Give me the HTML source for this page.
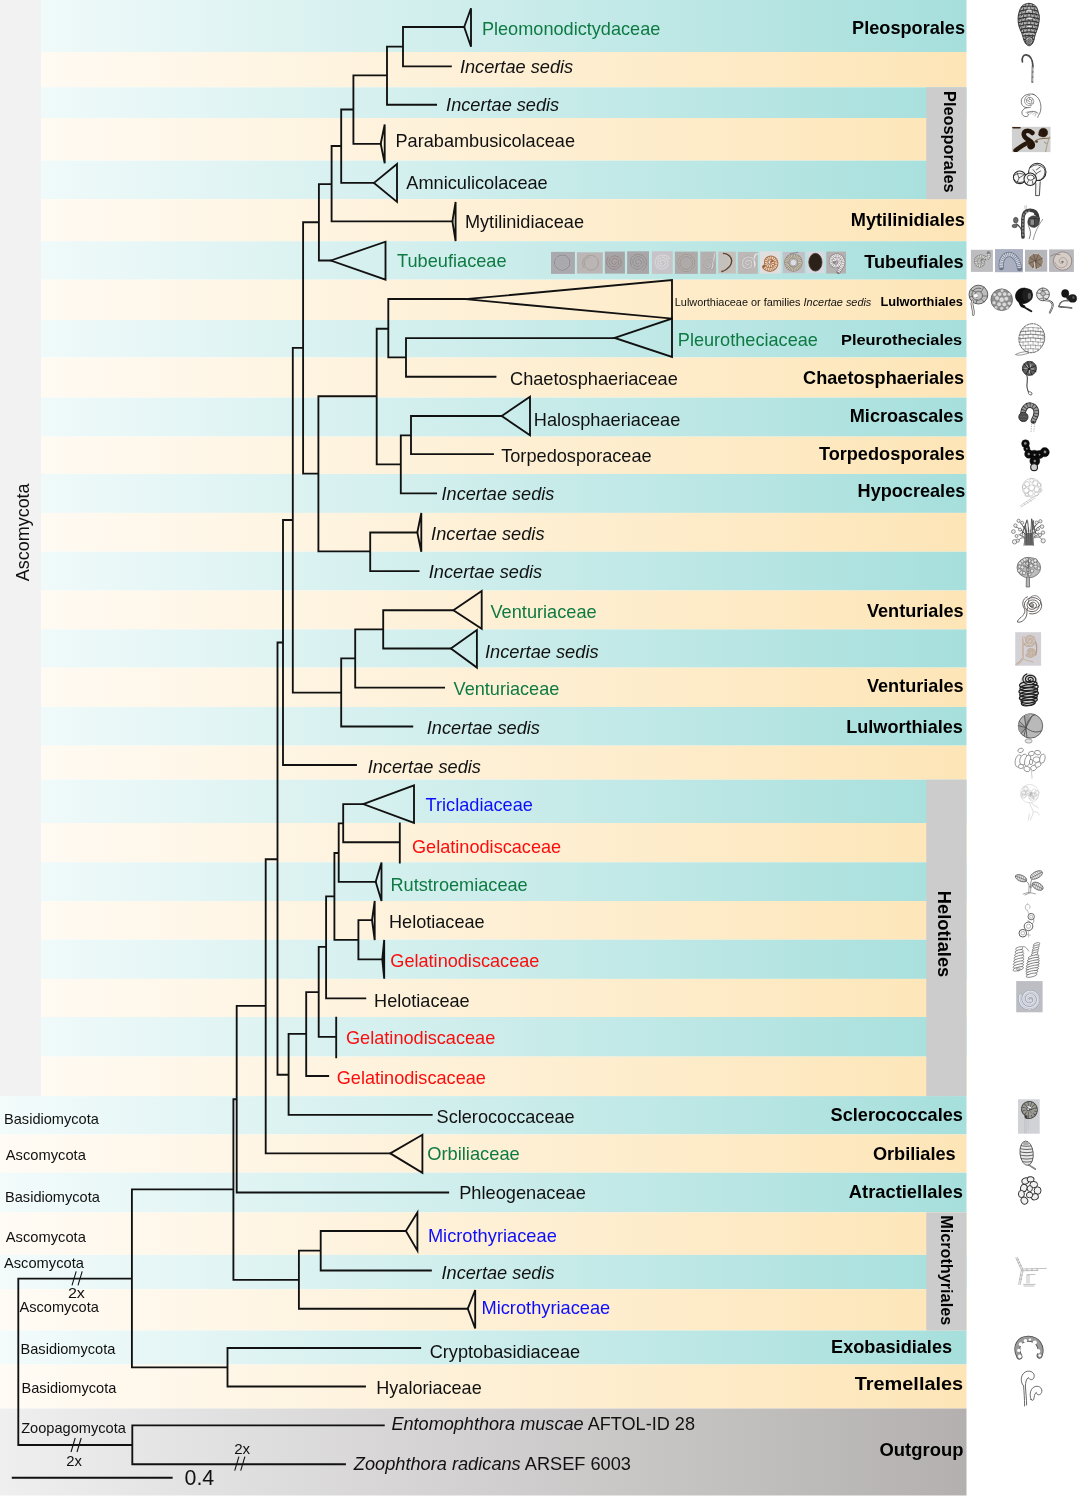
<!DOCTYPE html>
<html><head><meta charset="utf-8"><title>Phylogenetic tree</title>
<style>html,body{margin:0;padding:0;background:#fff}svg{display:block;will-change:transform;transform:translateZ(0)}text{font-family:"Liberation Sans",Arial,sans-serif}</style>
</head><body>
<svg width="1080" height="1497" viewBox="0 0 1080 1497">
<defs>
<linearGradient id="gt" gradientUnits="userSpaceOnUse" x1="0" y1="0" x2="966" y2="0"><stop offset="0" stop-color="#f3fbfb"/><stop offset="1" stop-color="#a6dfdc"/></linearGradient>
<linearGradient id="gc" gradientUnits="userSpaceOnUse" x1="0" y1="0" x2="966" y2="0"><stop offset="0" stop-color="#fffbf5"/><stop offset="1" stop-color="#fde5b7"/></linearGradient>
<linearGradient id="gg" gradientUnits="userSpaceOnUse" x1="0" y1="0" x2="966" y2="0"><stop offset="0" stop-color="#efefef"/><stop offset="1" stop-color="#b4b0b0"/></linearGradient>
</defs>
<rect x="0" y="0" width="1080" height="1497" fill="#fff"/>
<rect x="0" y="0.0" width="966.5" height="52.0" fill="url(#gt)"/>
<rect x="0" y="52.0" width="966.5" height="35.3" fill="url(#gc)"/>
<rect x="0" y="87.3" width="966.5" height="30.7" fill="url(#gt)"/>
<rect x="0" y="118.0" width="966.5" height="42.6" fill="url(#gc)"/>
<rect x="0" y="160.6" width="966.5" height="38.6" fill="url(#gt)"/>
<rect x="0" y="199.2" width="966.5" height="42.0" fill="url(#gc)"/>
<rect x="0" y="241.2" width="966.5" height="38.5" fill="url(#gt)"/>
<rect x="0" y="279.7" width="966.5" height="40.3" fill="url(#gc)"/>
<rect x="0" y="320.0" width="966.5" height="37.5" fill="url(#gt)"/>
<rect x="0" y="357.5" width="966.5" height="40.1" fill="url(#gc)"/>
<rect x="0" y="397.6" width="966.5" height="39.0" fill="url(#gt)"/>
<rect x="0" y="436.6" width="966.5" height="37.4" fill="url(#gc)"/>
<rect x="0" y="474.0" width="966.5" height="38.9" fill="url(#gt)"/>
<rect x="0" y="512.9" width="966.5" height="38.8" fill="url(#gc)"/>
<rect x="0" y="551.7" width="966.5" height="38.8" fill="url(#gt)"/>
<rect x="0" y="590.5" width="966.5" height="38.9" fill="url(#gc)"/>
<rect x="0" y="629.4" width="966.5" height="38.2" fill="url(#gt)"/>
<rect x="0" y="667.6" width="966.5" height="39.4" fill="url(#gc)"/>
<rect x="0" y="707.0" width="966.5" height="38.6" fill="url(#gt)"/>
<rect x="0" y="745.6" width="966.5" height="34.1" fill="url(#gc)"/>
<rect x="0" y="779.7" width="966.5" height="43.3" fill="url(#gt)"/>
<rect x="0" y="823.0" width="966.5" height="39.3" fill="url(#gc)"/>
<rect x="0" y="862.3" width="966.5" height="38.7" fill="url(#gt)"/>
<rect x="0" y="901.0" width="966.5" height="38.7" fill="url(#gc)"/>
<rect x="0" y="939.7" width="966.5" height="39.2" fill="url(#gt)"/>
<rect x="0" y="978.9" width="966.5" height="38.1" fill="url(#gc)"/>
<rect x="0" y="1017.0" width="966.5" height="39.6" fill="url(#gt)"/>
<rect x="0" y="1056.6" width="966.5" height="39.5" fill="url(#gc)"/>
<rect x="0" y="1096.1" width="966.5" height="38.3" fill="url(#gt)"/>
<rect x="0" y="1134.4" width="966.5" height="38.3" fill="url(#gc)"/>
<rect x="0" y="1172.7" width="966.5" height="39.7" fill="url(#gt)"/>
<rect x="0" y="1212.4" width="966.5" height="42.5" fill="url(#gc)"/>
<rect x="0" y="1254.9" width="966.5" height="34.3" fill="url(#gt)"/>
<rect x="0" y="1289.2" width="966.5" height="41.3" fill="url(#gc)"/>
<rect x="0" y="1330.5" width="966.5" height="34.0" fill="url(#gt)"/>
<rect x="0" y="1364.5" width="966.5" height="44.0" fill="url(#gc)"/>
<rect x="0" y="1408.5" width="966.5" height="87" fill="url(#gg)"/>
<rect x="0" y="0" width="41" height="1096.1" fill="#f2f2f2"/>
<rect x="926.3" y="87.3" width="40.2" height="111.9" fill="#cccccc"/>
<rect x="926.3" y="779.7" width="40.2" height="316.4" fill="#cccccc"/>
<rect x="926.3" y="1212.4" width="40.2" height="118.1" fill="#cccccc"/>
<path d="M403.0 27.0L464.2 27.0M403.0 27.0L403.0 66.4M403.0 66.4L450.9 66.4M387.0 46.6L403.0 46.6M387.0 46.6L387.0 104.7M387.0 104.7L436.1 104.7M353.4 75.4L387.0 75.4M353.4 75.4L353.4 143.8M353.4 143.8L380.7 143.8M341.2 109.5L353.4 109.5M341.2 109.5L341.2 182.9M341.2 182.9L374.0 182.9M331.6 146.0L341.2 146.0M331.6 146.0L331.6 221.4M331.6 221.4L452.4 221.4M318.9 184.1L331.6 184.1M318.9 184.1L318.9 260.5M318.9 260.5L330.9 260.5M303.1 222.2L318.9 222.2M303.1 222.2L303.1 473.6M292.8 347.8L303.1 347.8M292.8 347.8L292.8 692.6M388.3 299.0L465.4 299.0M388.3 299.0L388.3 357.3M388.3 357.3L406.0 357.3M406.0 338.1L406.0 376.7M406.0 338.1L614.7 338.1M406.0 376.7L495.5 376.7M376.7 328.7L388.3 328.7M376.7 328.7L376.7 464.4M376.7 464.4L400.8 464.4M400.8 435.3L400.8 493.4M400.8 435.3L411.0 435.3M411.0 416.0L411.0 454.1M411.0 416.0L501.7 416.0M411.0 454.1L493.0 454.1M400.8 493.4L436.1 493.4M318.4 396.2L376.7 396.2M318.4 396.2L318.4 551.3M318.4 551.3L370.2 551.3M370.2 532.5L370.2 571.1M370.2 532.5L417.3 532.5M370.2 571.1L418.6 571.1M303.1 473.6L318.4 473.6M283.0 520.0L292.8 520.0M283.0 520.0L283.0 765.0M383.2 610.2L453.4 610.2M383.2 610.2L383.2 648.5M383.2 648.5L450.9 648.5M355.2 629.3L383.2 629.3M355.2 629.3L355.2 687.6M355.2 687.6L444.1 687.6M341.2 658.3L355.2 658.3M341.2 658.3L341.2 726.5M341.2 726.5L412.3 726.5M292.8 692.6L341.2 692.6M283.0 765.0L356.0 765.0M277.5 642.5L283.0 642.5M277.5 642.5L277.5 1074.7M265.7 859.2L277.5 859.2M265.7 859.2L265.7 1153.4M343.2 804.1L363.2 804.1M343.2 804.1L343.2 842.2M343.2 842.2L399.8 842.2M399.8 823.4L399.8 862.5M338.7 823.4L343.2 823.4M338.7 823.4L338.7 881.8M338.7 881.8L375.7 881.8M334.4 853.0L338.7 853.0M334.4 853.0L334.4 939.9M334.4 939.9L358.4 939.9M358.4 920.1L358.4 959.4M358.4 920.1L372.0 920.1M358.4 959.4L382.3 959.4M326.1 896.3L334.4 896.3M326.1 896.3L326.1 998.3M326.1 998.3L365.3 998.3M318.7 946.9L326.1 946.9M318.7 946.9L318.7 1036.9M318.7 1036.9L336.2 1036.9M336.2 1017.6L336.2 1057.2M306.2 992.1L318.7 992.1M306.2 992.1L306.2 1076.0M306.2 1076.0L328.2 1076.0M288.6 1033.9L306.2 1033.9M288.6 1033.9L288.6 1114.8M288.6 1114.8L431.7 1114.8M277.5 1074.7L288.6 1074.7M265.7 1153.4L390.3 1153.4M236.7 1005.8L265.7 1005.8M236.7 1005.8L236.7 1192.5M236.7 1192.5L448.2 1192.5M233.4 1099.2L236.7 1099.2M233.4 1099.2L233.4 1279.8M131.9 1189.3L233.4 1189.3M233.4 1279.8L298.9 1279.8M298.9 1250.6L298.9 1308.7M298.9 1250.6L320.7 1250.6M320.7 1231.0L320.7 1270.5M320.7 1231.0L405.9 1231.0M320.7 1270.5L430.9 1270.5M298.9 1308.7L467.8 1308.7M131.9 1189.3L131.9 1367.4M131.9 1367.4L227.5 1367.4M227.5 1348.0L227.5 1386.5M227.5 1348.0L420.2 1348.0M227.5 1386.5L365.0 1386.5M18.3 1278.6L131.9 1278.6M18.3 1278.6L18.3 1445.0M18.3 1445.0L132.3 1445.0M132.3 1425.4L132.3 1464.2M132.3 1425.4L383.8 1425.4M132.3 1464.2L345.0 1464.2M12.7 1477.7L171.7 1477.7" fill="none" stroke="#111" stroke-width="1.85" stroke-linecap="square"/>
<path d="M464.2 27.0L471.0 8.3L471.0 46.8Z" fill="none" stroke="#111" stroke-width="1.85" stroke-linejoin="miter"/>
<path d="M380.7 143.8L384.7 124.5L384.7 163.3Z" fill="none" stroke="#111" stroke-width="1.85" stroke-linejoin="miter"/>
<path d="M374.0 182.9L397.0 164.0L397.0 201.9Z" fill="none" stroke="#111" stroke-width="1.85" stroke-linejoin="miter"/>
<path d="M452.4 221.4L455.6 201.9L455.6 241.0Z" fill="none" stroke="#111" stroke-width="1.85" stroke-linejoin="miter"/>
<path d="M330.9 260.5L385.5 241.7L385.5 279.6Z" fill="none" stroke="#111" stroke-width="1.85" stroke-linejoin="miter"/>
<path d="M465.4 299.2L672.0 280.0L672.0 318.6Z" fill="none" stroke="#111" stroke-width="1.85" stroke-linejoin="miter"/>
<path d="M614.7 337.9L672.0 318.6L672.0 357.0Z" fill="none" stroke="#111" stroke-width="1.85" stroke-linejoin="miter"/>
<path d="M501.7 416.0L530.0 396.8L530.0 435.2Z" fill="none" stroke="#111" stroke-width="1.85" stroke-linejoin="miter"/>
<path d="M417.3 532.5L421.3 513.0L421.3 551.8Z" fill="none" stroke="#111" stroke-width="1.85" stroke-linejoin="miter"/>
<path d="M453.4 610.2L481.7 591.1L481.7 628.7Z" fill="none" stroke="#111" stroke-width="1.85" stroke-linejoin="miter"/>
<path d="M450.9 648.4L476.9 630.0L476.9 667.6Z" fill="none" stroke="#111" stroke-width="1.85" stroke-linejoin="miter"/>
<path d="M363.2 804.1L414.0 785.3L414.0 822.9Z" fill="none" stroke="#111" stroke-width="1.85" stroke-linejoin="miter"/>
<path d="M375.7 881.8L381.5 862.5L381.5 901.0Z" fill="none" stroke="#111" stroke-width="1.85" stroke-linejoin="miter"/>
<path d="M372.0 920.1L374.7 901.0L374.7 940.1Z" fill="none" stroke="#111" stroke-width="1.85" stroke-linejoin="miter"/>
<path d="M382.3 959.4L384.2 939.9L384.2 978.7Z" fill="none" stroke="#111" stroke-width="1.85" stroke-linejoin="miter"/>
<path d="M390.3 1153.4L422.4 1134.8L422.4 1172.9Z" fill="none" stroke="#111" stroke-width="1.85" stroke-linejoin="miter"/>
<path d="M405.9 1231.0L417.4 1212.5L417.4 1250.6Z" fill="none" stroke="#111" stroke-width="1.85" stroke-linejoin="miter"/>
<path d="M467.8 1308.7L475.2 1290.0L475.2 1328.5Z" fill="none" stroke="#111" stroke-width="1.85" stroke-linejoin="miter"/>
<path d="M72.0 1285.3L76.2 1271.3" stroke="#111" stroke-width="1.1" fill="none"/>
<path d="M78.0 1285.3L82.2 1271.3" stroke="#111" stroke-width="1.1" fill="none"/>
<path d="M71.0 1452.0L75.2 1438.0" stroke="#111" stroke-width="1.1" fill="none"/>
<path d="M77.0 1452.0L81.2 1438.0" stroke="#111" stroke-width="1.1" fill="none"/>
<path d="M234.7 1470.7L238.9 1456.7" stroke="#111" stroke-width="1.1" fill="none"/>
<path d="M240.7 1470.7L244.9 1456.7" stroke="#111" stroke-width="1.1" fill="none"/>
<text x="481.9" y="35.0" font-size="17.7" fill="#0e7a43" textLength="178.5" lengthAdjust="spacingAndGlyphs">Pleomonodictydaceae</text>
<text x="459.9" y="73.2" font-size="17.7" fill="#111" font-style="italic" textLength="113.3" lengthAdjust="spacingAndGlyphs">Incertae sedis</text>
<text x="446.1" y="111.0" font-size="17.7" fill="#111" font-style="italic" textLength="113.1" lengthAdjust="spacingAndGlyphs">Incertae sedis</text>
<text x="395.5" y="146.8" font-size="17.7" fill="#111" textLength="179.5" lengthAdjust="spacingAndGlyphs">Parabambusicolaceae</text>
<text x="406.3" y="189.3" font-size="17.7" fill="#111" textLength="141.4" lengthAdjust="spacingAndGlyphs">Amniculicolaceae</text>
<text x="464.9" y="227.9" font-size="17.7" fill="#111" textLength="119.1" lengthAdjust="spacingAndGlyphs">Mytilinidiaceae</text>
<text x="397.0" y="267.1" font-size="17.7" fill="#0e7a43" textLength="109.6" lengthAdjust="spacingAndGlyphs">Tubeufiaceae</text>
<text x="677.8" y="346.4" font-size="17.7" fill="#0e7a43" textLength="140.1" lengthAdjust="spacingAndGlyphs">Pleurotheciaceae</text>
<text x="510.0" y="384.6" font-size="17.7" fill="#111" textLength="167.8" lengthAdjust="spacingAndGlyphs">Chaetosphaeriaceae</text>
<text x="533.8" y="426.4" font-size="17.7" fill="#111" textLength="146.5" lengthAdjust="spacingAndGlyphs">Halosphaeriaceae</text>
<text x="501.2" y="461.8" font-size="17.7" fill="#111" textLength="150.5" lengthAdjust="spacingAndGlyphs">Torpedosporaceae</text>
<text x="441.6" y="500.4" font-size="17.7" fill="#111" font-style="italic" textLength="112.7" lengthAdjust="spacingAndGlyphs">Incertae sedis</text>
<text x="431.1" y="540.0" font-size="17.7" fill="#111" font-style="italic" textLength="113.4" lengthAdjust="spacingAndGlyphs">Incertae sedis</text>
<text x="428.8" y="577.8" font-size="17.7" fill="#111" font-style="italic" textLength="113.4" lengthAdjust="spacingAndGlyphs">Incertae sedis</text>
<text x="490.5" y="618.0" font-size="17.7" fill="#0e7a43" textLength="106.1" lengthAdjust="spacingAndGlyphs">Venturiaceae</text>
<text x="485.0" y="658.4" font-size="17.7" fill="#111" font-style="italic" textLength="113.6" lengthAdjust="spacingAndGlyphs">Incertae sedis</text>
<text x="453.6" y="695.1" font-size="17.7" fill="#0e7a43" textLength="105.7" lengthAdjust="spacingAndGlyphs">Venturiaceae</text>
<text x="426.8" y="733.5" font-size="17.7" fill="#111" font-style="italic" textLength="113.1" lengthAdjust="spacingAndGlyphs">Incertae sedis</text>
<text x="367.7" y="772.8" font-size="17.7" fill="#111" font-style="italic" textLength="113.2" lengthAdjust="spacingAndGlyphs">Incertae sedis</text>
<text x="425.6" y="811.1" font-size="17.7" fill="#0d0dfb" textLength="107.3" lengthAdjust="spacingAndGlyphs">Tricladiaceae</text>
<text x="412.0" y="853.2" font-size="17.7" fill="#fb0d0d" textLength="149.2" lengthAdjust="spacingAndGlyphs">Gelatinodiscaceae</text>
<text x="390.5" y="891.2" font-size="17.7" fill="#0e7a43" textLength="137.2" lengthAdjust="spacingAndGlyphs">Rutstroemiaceae</text>
<text x="389.0" y="928.4" font-size="17.7" fill="#111" textLength="95.6" lengthAdjust="spacingAndGlyphs">Helotiaceae</text>
<text x="390.3" y="966.5" font-size="17.7" fill="#fb0d0d" textLength="149.1" lengthAdjust="spacingAndGlyphs">Gelatinodiscaceae</text>
<text x="374.1" y="1006.5" font-size="17.7" fill="#111" textLength="95.5" lengthAdjust="spacingAndGlyphs">Helotiaceae</text>
<text x="346.0" y="1044.0" font-size="17.7" fill="#fb0d0d" textLength="149.3" lengthAdjust="spacingAndGlyphs">Gelatinodiscaceae</text>
<text x="336.7" y="1084.0" font-size="17.7" fill="#fb0d0d" textLength="149.2" lengthAdjust="spacingAndGlyphs">Gelatinodiscaceae</text>
<text x="436.6" y="1123.0" font-size="17.7" fill="#111" textLength="138.1" lengthAdjust="spacingAndGlyphs">Sclerococcaceae</text>
<text x="427.2" y="1160.3" font-size="17.7" fill="#0e7a43" textLength="92.6" lengthAdjust="spacingAndGlyphs">Orbiliaceae</text>
<text x="459.2" y="1198.5" font-size="17.7" fill="#111" textLength="126.7" lengthAdjust="spacingAndGlyphs">Phleogenaceae</text>
<text x="427.9" y="1241.8" font-size="17.7" fill="#0d0dfb" textLength="128.9" lengthAdjust="spacingAndGlyphs">Microthyriaceae</text>
<text x="441.5" y="1278.5" font-size="17.7" fill="#111" font-style="italic" textLength="113.1" lengthAdjust="spacingAndGlyphs">Incertae sedis</text>
<text x="481.5" y="1314.3" font-size="17.7" fill="#0d0dfb" textLength="128.7" lengthAdjust="spacingAndGlyphs">Microthyriaceae</text>
<text x="429.7" y="1358.2" font-size="17.7" fill="#111" textLength="150.4" lengthAdjust="spacingAndGlyphs">Cryptobasidiaceae</text>
<text x="376.3" y="1393.8" font-size="17.7" fill="#111" textLength="105.4" lengthAdjust="spacingAndGlyphs">Hyaloriaceae</text>
<text x="391.4" y="1430.1" font-size="17.7" fill="#111" textLength="303.6" lengthAdjust="spacingAndGlyphs"><tspan font-style="italic">Entomophthora muscae</tspan> AFTOL-ID 28</text>
<text x="353.8" y="1469.7" font-size="17.7" fill="#111" textLength="277.2" lengthAdjust="spacingAndGlyphs"><tspan font-style="italic">Zoophthora radicans</tspan> ARSEF 6003</text>
<text x="674.8" y="306" font-size="11" fill="#111" textLength="196.5" lengthAdjust="spacingAndGlyphs">Lulworthiaceae or families <tspan font-style="italic">Incertae sedis</tspan></text>
<text x="852.1" y="34.1" font-size="17.7" fill="#000" font-weight="bold" textLength="112.9" lengthAdjust="spacingAndGlyphs">Pleosporales</text>
<text x="850.8" y="225.8" font-size="17.7" fill="#000" font-weight="bold" textLength="114.2" lengthAdjust="spacingAndGlyphs">Mytilinidiales</text>
<text x="864.3" y="268.4" font-size="17.7" fill="#000" font-weight="bold" textLength="99.4" lengthAdjust="spacingAndGlyphs">Tubeufiales</text>
<text x="880.4" y="305.5" font-size="12.7" fill="#000" font-weight="bold" textLength="82.5" lengthAdjust="spacingAndGlyphs">Lulworthiales</text>
<text x="841.0" y="344.9" font-size="14.6" fill="#000" font-weight="bold" textLength="121.2" lengthAdjust="spacingAndGlyphs">Pleurotheciales</text>
<text x="803.1" y="383.8" font-size="17.7" fill="#000" font-weight="bold" textLength="161.1" lengthAdjust="spacingAndGlyphs">Chaetosphaeriales</text>
<text x="849.8" y="422.2" font-size="17.7" fill="#000" font-weight="bold" textLength="113.7" lengthAdjust="spacingAndGlyphs">Microascales</text>
<text x="818.9" y="459.5" font-size="17.7" fill="#000" font-weight="bold" textLength="145.9" lengthAdjust="spacingAndGlyphs">Torpedosporales</text>
<text x="857.6" y="496.6" font-size="17.7" fill="#000" font-weight="bold" textLength="107.7" lengthAdjust="spacingAndGlyphs">Hypocreales</text>
<text x="866.9" y="617.1" font-size="17.7" fill="#000" font-weight="bold" textLength="96.8" lengthAdjust="spacingAndGlyphs">Venturiales</text>
<text x="866.9" y="692.4" font-size="17.7" fill="#000" font-weight="bold" textLength="96.8" lengthAdjust="spacingAndGlyphs">Venturiales</text>
<text x="846.2" y="733.0" font-size="17.7" fill="#000" font-weight="bold" textLength="116.7" lengthAdjust="spacingAndGlyphs">Lulworthiales</text>
<text x="830.6" y="1121.1" font-size="17.7" fill="#000" font-weight="bold" textLength="132.3" lengthAdjust="spacingAndGlyphs">Sclerococcales</text>
<text x="872.9" y="1160.0" font-size="17.7" fill="#000" font-weight="bold" textLength="82.8" lengthAdjust="spacingAndGlyphs">Orbiliales</text>
<text x="848.8" y="1197.6" font-size="17.7" fill="#000" font-weight="bold" textLength="114.1" lengthAdjust="spacingAndGlyphs">Atractiellales</text>
<text x="831.1" y="1353.2" font-size="17.7" fill="#000" font-weight="bold" textLength="121.0" lengthAdjust="spacingAndGlyphs">Exobasidiales</text>
<text x="854.7" y="1390.0" font-size="18.2" fill="#000" font-weight="bold" textLength="108.5" lengthAdjust="spacingAndGlyphs">Tremellales</text>
<text x="879.5" y="1456.2" font-size="17.7" fill="#000" font-weight="bold" textLength="83.9" lengthAdjust="spacingAndGlyphs">Outgroup</text>
<text transform="translate(944.2 91.1) rotate(90)" font-size="16.7" font-weight="bold" fill="#000" textLength="101.5" lengthAdjust="spacingAndGlyphs">Pleosporales</text>
<text transform="translate(938.4 890.8) rotate(90)" font-size="18.5" font-weight="bold" fill="#000" textLength="86.5" lengthAdjust="spacingAndGlyphs">Helotiales</text>
<text transform="translate(940.7 1215.2) rotate(90)" font-size="16.8" font-weight="bold" fill="#000" textLength="110.0" lengthAdjust="spacingAndGlyphs">Microthyriales</text>
<text transform="translate(29.1 581.2) rotate(-90)" font-size="18.8" fill="#111" textLength="97.8" lengthAdjust="spacingAndGlyphs">Ascomycota</text>
<text x="4.0" y="1123.9" font-size="14.4" fill="#111" textLength="94.9" lengthAdjust="spacingAndGlyphs">Basidiomycota</text>
<text x="5.8" y="1159.7" font-size="14.4" fill="#111" textLength="80.1" lengthAdjust="spacingAndGlyphs">Ascomycota</text>
<text x="5.0" y="1202.0" font-size="14.4" fill="#111" textLength="94.9" lengthAdjust="spacingAndGlyphs">Basidiomycota</text>
<text x="5.8" y="1241.6" font-size="14.4" fill="#111" textLength="80.1" lengthAdjust="spacingAndGlyphs">Ascomycota</text>
<text x="4.0" y="1268.4" font-size="14.4" fill="#111" textLength="79.9" lengthAdjust="spacingAndGlyphs">Ascomycota</text>
<text x="19.5" y="1312.3" font-size="14.4" fill="#111" textLength="79.4" lengthAdjust="spacingAndGlyphs">Ascomycota</text>
<text x="20.5" y="1353.6" font-size="14.4" fill="#111" textLength="94.9" lengthAdjust="spacingAndGlyphs">Basidiomycota</text>
<text x="21.5" y="1393.2" font-size="14.4" fill="#111" textLength="94.9" lengthAdjust="spacingAndGlyphs">Basidiomycota</text>
<text x="21.2" y="1432.7" font-size="14.4" fill="#111" textLength="104.7" lengthAdjust="spacingAndGlyphs">Zoopagomycota</text>
<text x="67.9" y="1298.0" font-size="14.0" fill="#111" textLength="17.0" lengthAdjust="spacingAndGlyphs">2x</text>
<text x="66.2" y="1465.7" font-size="14.0" fill="#111" textLength="15.7" lengthAdjust="spacingAndGlyphs">2x</text>
<text x="234.2" y="1454.0" font-size="14.0" fill="#111" textLength="16.0" lengthAdjust="spacingAndGlyphs">2x</text>
<text x="184.5" y="1485.0" font-size="21.5" fill="#111" textLength="29.7" lengthAdjust="spacingAndGlyphs">0.4</text>
<g id="icons">
<rect x="551.00" y="251.90" width="23.90" height="22.00" fill="#a9a9ae"/>
<rect x="576.90" y="252.30" width="25.90" height="21.30" fill="#bab6b6"/>
<rect x="604.80" y="251.60" width="20.10" height="22.00" fill="#a6a4a6"/>
<rect x="627.10" y="251.30" width="21.90" height="22.60" fill="#a8a6a8"/>
<rect x="651.90" y="251.30" width="20.80" height="22.60" fill="#c6c4c8"/>
<rect x="674.90" y="251.60" width="22.90" height="22.30" fill="#aeaaaa"/>
<rect x="700.30" y="251.60" width="15.80" height="22.30" fill="#b4b0b0"/>
<rect x="718.20" y="251.60" width="17.70" height="21.90" fill="#c4c0bc"/>
<rect x="737.80" y="251.90" width="20.10" height="22.00" fill="#bcb8b8"/>
<rect x="760.00" y="251.30" width="20.80" height="22.30" fill="#e2dede"/>
<rect x="782.80" y="251.90" width="22.00" height="21.30" fill="#c0c0c8"/>
<rect x="806.90" y="251.60" width="17.70" height="21.60" fill="#d8d8e0"/>
<rect x="826.30" y="251.60" width="19.70" height="21.90" fill="#b4b0b0"/>
<circle cx="562.20" cy="262.60" r="7.30" fill="none" stroke="#6a6a70" stroke-width="1.00" />
<circle cx="562.20" cy="262.60" r="7.00" fill="none" stroke="#d8d8dc" stroke-width="0.50" />
<path d="M583.87 267.33L583.40 266.32L583.07 265.26L582.88 264.17L582.85 263.08L582.96 261.99L583.22 260.93L583.62 259.92L584.15 258.98L584.80 258.13L585.55 257.37L586.40 256.73L587.33 256.21L588.31 255.83L589.32 255.58L590.36 255.47L591.40 255.50L592.42 255.68L593.40 255.99L594.33 256.42L595.18 256.98L595.95 257.65L596.61 258.40L597.16 259.24L597.60 260.14L597.90 261.09L598.07 262.06L598.11 263.05L598.01 264.02L597.79 264.97L597.44 265.87L596.97 266.71L596.39 267.48L595.72 268.16L594.97 268.74L594.15 269.21L593.28 269.56L592.37 269.78L591.45 269.88L590.53 269.86L589.62 269.71L588.75 269.44L587.92 269.06L587.16 268.57L586.48 267.98L585.88 267.31L585.39 266.57L585.00 265.78L584.73 264.94L584.57 264.08L584.53 263.21L584.61 262.35L584.81 261.52L585.11 260.72L585.52 259.97L586.03 259.30L586.61 258.70L587.27 258.18L587.99 257.77L588.75 257.46L589.55 257.25" fill="none" stroke="#8a7f78" stroke-width="0.90" stroke-linecap="round" stroke-linejoin="round" />
<path d="M584.04 267.22L583.58 266.24L583.26 265.21L583.08 264.15L583.05 263.08L583.16 262.02L583.41 260.99L583.80 260.00L584.32 259.09L584.95 258.26L585.69 257.52L586.52 256.89L587.42 256.39L588.37 256.01L589.37 255.77L590.38 255.67L591.39 255.70L592.38 255.87L593.33 256.18L594.23 256.60L595.06 257.15L595.81 257.79L596.46 258.53L596.99 259.35L597.41 260.22L597.71 261.14L597.87 262.09L597.91 263.05L597.82 263.99L597.59 264.92L597.25 265.79L596.80 266.61L596.24 267.36L595.59 268.01L594.85 268.58L594.06 269.03L593.21 269.37L592.33 269.59L591.43 269.69L590.54 269.66L589.66 269.51L588.81 269.25L588.01 268.88L587.27 268.40L586.61 267.83L586.04 267.18L585.56 266.47L585.19 265.70L584.92 264.89L584.77 264.05L584.73 263.21L584.81 262.38L585.00 261.57L585.30 260.80L585.70 260.07L586.18 259.42L586.75 258.84L587.39 258.34L588.09 257.94L588.82 257.64L589.59 257.45" fill="none" stroke="#ddd5cf" stroke-width="0.40" stroke-linecap="round" stroke-linejoin="round" />
<path d="M616.00 262.00L616.05 262.43L615.97 262.89L615.75 263.33L615.40 263.71L614.92 264.00L614.37 264.15L613.76 264.13L613.15 263.94L612.59 263.58L612.14 263.05L611.84 262.39L611.72 261.65L611.82 260.87L612.14 260.13L612.66 259.47L613.37 258.97L614.22 258.67L615.15 258.61L616.08 258.81L616.95 259.28L617.69 259.98L618.22 260.88L618.49 261.92L618.47 263.02L618.14 264.10L617.52 265.08L616.63 265.88L615.54 266.41L614.31 266.64L613.03 266.52L611.81 266.05L610.74 265.25L609.91 264.16L609.39 262.86L609.24 261.45L609.48 260.01L610.11 258.67L611.10 257.53L612.39 256.68L613.89 256.20L615.49 256.14L617.08 256.53L618.52 257.34L619.72 258.53L620.56 260.03L620.98 261.73L620.92 263.51L620.37 265.23L619.36 266.76L617.96 267.99L616.25 268.80L614.35 269.13L612.41 268.93L610.56 268.21L608.96 266.99L607.72 265.36L606.96 263.44L606.74 261.35L607.10 259.25L608.03 257.30" fill="none" stroke="#7d6a6a" stroke-width="0.90" stroke-linecap="round" stroke-linejoin="round" />
<path d="M615.80 262.00L615.86 262.38L615.80 262.79L615.61 263.18L615.30 263.54L614.88 263.80L614.38 263.95L613.82 263.94L613.26 263.78L612.75 263.45L612.32 262.97L612.04 262.36L611.92 261.67L612.00 260.95L612.29 260.25L612.78 259.63L613.44 259.16L614.24 258.87L615.11 258.81L615.99 258.99L616.82 259.42L617.52 260.08L618.03 260.94L618.29 261.92L618.28 262.97L617.97 264.00L617.38 264.94L616.54 265.70L615.49 266.22L614.31 266.44L613.09 266.33L611.92 265.88L610.89 265.11L610.09 264.08L609.59 262.83L609.44 261.47L609.67 260.09L610.27 258.79L611.23 257.69L612.47 256.86L613.91 256.40L615.46 256.34L616.99 256.71L618.39 257.49L619.55 258.64L620.37 260.09L620.78 261.74L620.72 263.46L620.20 265.13L619.22 266.62L617.86 267.82L616.20 268.61L614.35 268.93L612.46 268.74L610.67 268.04L609.11 266.86L607.90 265.28L607.16 263.40L606.94 261.37L607.29 259.32L608.19 257.42" fill="none" stroke="#cfc0c0" stroke-width="0.40" stroke-linecap="round" stroke-linejoin="round" />
<path d="M638.45 263.31L638.14 263.59L637.72 263.76L637.22 263.78L636.71 263.63L636.24 263.30L635.88 262.80L635.69 262.18L635.71 261.49L635.97 260.80L636.45 260.20L637.13 259.76L637.96 259.54L638.85 259.61L639.71 259.96L640.45 260.60L640.97 261.47L641.20 262.50L641.10 263.59L640.64 264.62L639.85 265.50L638.80 266.10L637.57 266.35L636.28 266.20L635.06 265.64L634.06 264.70L633.37 263.46L633.10 262.03L633.29 260.54L633.95 259.15L635.04 258.01L636.47 257.24L638.11 256.95L639.79 257.18L641.36 257.95L642.64 259.19L643.49 260.81L643.80 262.65L643.52 264.53L642.65 266.27L641.26 267.69L639.46 268.62L637.42 268.95L635.33 268.63L633.42 267.66L631.87 266.11L630.86 264.12L630.50 261.88L630.87 259.60L631.94 257.51L633.64 255.82L635.81 254.73L638.26 254.35L640.74 254.76L643.01 255.94L644.83 257.79L646.00 260.15L646.40 262.79L645.94 265.47L644.66 267.92L642.66 269.87" fill="none" stroke="#77706f" stroke-width="0.90" stroke-linecap="round" stroke-linejoin="round" />
<path d="M638.34 263.14L638.09 263.39L637.73 263.56L637.30 263.60L636.84 263.48L636.41 263.19L636.08 262.75L635.89 262.19L635.90 261.56L636.12 260.93L636.56 260.36L637.18 259.95L637.95 259.74L638.78 259.79L639.59 260.12L640.28 260.71L640.78 261.52L641.00 262.48L640.91 263.51L640.49 264.50L639.75 265.33L638.75 265.91L637.58 266.15L636.35 266.02L635.19 265.49L634.22 264.60L633.56 263.41L633.30 262.04L633.48 260.61L634.11 259.28L635.15 258.18L636.52 257.43L638.10 257.15L639.72 257.37L641.23 258.11L642.47 259.30L643.29 260.86L643.60 262.63L643.33 264.46L642.50 266.14L641.15 267.52L639.41 268.42L637.43 268.75L635.41 268.44L633.54 267.50L632.04 266.00L631.05 264.07L630.70 261.89L631.05 259.67L632.10 257.63L633.75 255.99L635.86 254.92L638.25 254.55L640.67 254.95L642.88 256.09L644.66 257.90L645.81 260.20L646.20 262.78L645.76 265.40L644.51 267.79L642.55 269.70" fill="none" stroke="#d0cccc" stroke-width="0.40" stroke-linecap="round" stroke-linejoin="round" />
<path d="M661.68 263.96L661.26 263.83L660.87 263.57L660.56 263.19L660.35 262.70L660.28 262.15L660.38 261.57L660.64 261.01L661.07 260.53L661.65 260.17L662.33 259.97L663.07 259.96L663.81 260.17L664.49 260.59L665.05 261.20L665.44 261.97L665.60 262.84L665.52 263.76L665.19 264.65L664.60 265.44L663.80 266.06L662.83 266.44L661.76 266.56L660.67 266.37L659.64 265.88L658.77 265.11L658.12 264.11L657.75 262.93L657.72 261.68L658.03 260.43L658.69 259.28L659.66 258.34L660.87 257.68L662.24 257.36L663.68 257.43L665.08 257.89L666.33 258.74L667.32 259.91L667.97 261.33L668.21 262.91L668.02 264.52L667.38 266.05L666.34 267.38L664.95 268.39L663.32 269.01L661.54 269.16L659.76 268.82L658.12 267.99L656.73 266.74L655.72 265.13L655.17 263.28L655.13 261.31L655.64 259.38L656.67 257.64L658.15 256.21L659.99 255.22L662.05 254.76L664.20 254.87L666.26 255.57L668.09 256.81L669.53 258.52" fill="none" stroke="#e8e6ea" stroke-width="1.20" stroke-linecap="round" stroke-linejoin="round" />
<path d="M661.59 264.15L661.13 263.99L660.71 263.68L660.37 263.25L660.15 262.71L660.09 262.11L660.20 261.48L660.50 260.87L660.97 260.36L661.60 259.97L662.33 259.77L663.12 259.77L663.91 260.00L664.64 260.45L665.23 261.11L665.63 261.93L665.80 262.86L665.71 263.83L665.35 264.77L664.73 265.59L663.88 266.24L662.85 266.64L661.73 266.75L660.59 266.55L659.52 266.04L658.61 265.23L657.93 264.17L657.55 262.95L657.52 261.64L657.86 260.34L658.55 259.15L659.55 258.17L660.81 257.49L662.24 257.16L663.74 257.24L665.18 257.72L666.47 258.60L667.49 259.81L668.16 261.29L668.41 262.92L668.21 264.59L667.55 266.17L666.47 267.53L665.04 268.58L663.35 269.20L661.52 269.36L659.69 269.00L657.99 268.15L656.57 266.86L655.53 265.20L654.97 263.29L654.94 261.28L655.46 259.30L656.52 257.50L658.04 256.04L659.93 255.03L662.05 254.56L664.25 254.68L666.36 255.39L668.23 256.67L669.70 258.43" fill="none" stroke="#b0a4a8" stroke-width="0.40" stroke-linecap="round" stroke-linejoin="round" />
<circle cx="686.30" cy="263.00" r="8.20" fill="none" stroke="#857b74" stroke-width="0.90" />
<circle cx="686.30" cy="263.00" r="7.90" fill="none" stroke="#d8d0c8" stroke-width="0.50" />
<circle cx="686.30" cy="263.00" r="6.40" fill="none" stroke="#958b84" stroke-width="0.60" />
<path d="M708.11 266.00L707.80 266.06L707.47 266.06L707.13 265.99L706.81 265.85L706.50 265.63L706.24 265.34L706.04 265.00L705.90 264.60L705.85 264.18L705.88 263.73L706.01 263.29L706.24 262.87L706.55 262.49L706.94 262.18L707.41 261.94L707.92 261.80L708.47 261.77L709.03 261.84L709.57 262.03L710.08 262.34L710.53 262.75L710.89 263.26L711.16 263.84L711.30 264.47L711.31 265.14L711.19 265.81L710.93 266.46L710.54 267.05L710.03 267.57L709.41 267.98L708.71 268.26L707.95 268.40L707.16 268.39L706.38 268.21L705.64 267.88L704.96 267.40L704.38 266.78L703.94 266.05L703.64 265.23L703.50 264.35L703.55 263.44L703.78 262.55L704.18 261.71L704.76 260.96L705.49 260.32L706.33 259.84L707.28 259.53L708.28 259.41L709.30 259.49L710.30 259.78L711.23 260.27L712.06 260.94L712.75 261.77L713.26 262.74L713.58 263.81L713.68 264.93L713.56 266.07L713.21 267.17L712.63 268.19L711.86 269.09 Q714 258 715 253" fill="none" stroke="#d8d8d8" stroke-width="0.90" stroke-linecap="round" stroke-linejoin="round" />
<path d="M708.31 266.30L707.99 266.36L707.64 266.36L707.28 266.28L706.94 266.13L706.62 265.90L706.34 265.59L706.13 265.23L705.99 264.81L705.94 264.36L705.98 263.89L706.11 263.43L706.35 262.99L706.68 262.60L707.09 262.27L707.58 262.02L708.12 261.87L708.69 261.84L709.27 261.92L709.84 262.12L710.37 262.44L710.84 262.87L711.22 263.40L711.49 264.01L711.64 264.67L711.65 265.37L711.52 266.07L711.25 266.74L710.84 267.36L710.31 267.89L709.66 268.31L708.94 268.61L708.15 268.75L707.33 268.74L706.52 268.56L705.75 268.21L705.05 267.71L704.45 267.07L703.98 266.31L703.67 265.45L703.54 264.54L703.58 263.61L703.82 262.68L704.25 261.81L704.84 261.03L705.59 260.37L706.48 259.87L707.45 259.55L708.49 259.43L709.55 259.51L710.58 259.81L711.54 260.32L712.40 261.02L713.11 261.88L713.64 262.88L713.97 263.99L714.08 265.15L713.95 266.32L713.58 267.46L712.99 268.52L712.19 269.45" fill="none" stroke="#6c6666" stroke-width="0.40" stroke-linecap="round" stroke-linejoin="round" />
<path d="M723.5 253.5 C733 254,736 266,722 271.5" fill="none" stroke="#5b3f2b" stroke-width="1.50" stroke-linecap="round" stroke-linejoin="round" />
<path d="M724 254.5 C731.5 256,733.5 265,723 270.5" fill="none" stroke="#ddd6cf" stroke-width="0.60" stroke-linecap="round" stroke-linejoin="round" />
<path d="M749.05 264.08L749.00 264.36L748.87 264.63L748.66 264.89L748.38 265.11L748.04 265.27L747.65 265.35L747.23 265.34L746.80 265.23L746.39 265.02L746.01 264.71L745.69 264.31L745.46 263.83L745.34 263.28L745.33 262.70L745.46 262.11L745.71 261.54L746.10 261.01L746.61 260.57L747.23 260.24L747.92 260.03L748.66 259.98L749.42 260.09L750.16 260.37L750.85 260.81L751.44 261.40L751.91 262.13L752.22 262.95L752.36 263.85L752.30 264.79L752.04 265.71L751.58 266.57L750.93 267.34L750.12 267.96L749.17 268.42L748.12 268.67L747.02 268.69L745.92 268.48L744.87 268.03L743.91 267.36L743.10 266.48L742.48 265.44L742.09 264.26L741.95 263.01L742.07 261.73L742.47 260.48L743.13 259.32L744.04 258.31L745.16 257.50L746.44 256.93L747.84 256.64L749.29 256.64L750.73 256.95L752.10 257.57L753.32 258.47L754.35 259.63L755.12 261.00L755.60 262.52L755.75 264.13L755.56 265.76L755.02 267.34 Q753 253.5 757 254" fill="none" stroke="#e6e4e6" stroke-width="1.30" stroke-linecap="round" stroke-linejoin="round" />
<path d="M749.32 264.22L749.23 264.55L749.05 264.88L748.79 265.17L748.45 265.41L748.05 265.57L747.60 265.65L747.11 265.63L746.62 265.49L746.16 265.24L745.74 264.88L745.39 264.42L745.14 263.87L745.01 263.26L745.02 262.61L745.17 261.95L745.47 261.32L745.90 260.75L746.47 260.27L747.15 259.91L747.91 259.70L748.72 259.65L749.55 259.78L750.36 260.09L751.10 260.58L751.74 261.22L752.24 262.01L752.57 262.91L752.70 263.88L752.63 264.89L752.34 265.87L751.84 266.80L751.14 267.62L750.27 268.29L749.25 268.76L748.13 269.02L746.96 269.04L745.78 268.81L744.66 268.33L743.65 267.61L742.79 266.67L742.14 265.56L741.72 264.31L741.58 262.98L741.71 261.62L742.14 260.30L742.85 259.08L743.81 258.01L744.99 257.16L746.35 256.56L747.83 256.25L749.36 256.26L750.88 256.60L752.32 257.25L753.61 258.21L754.68 259.43L755.49 260.87L755.99 262.47L756.14 264.16L755.94 265.87L755.37 267.53" fill="none" stroke="#7e7474" stroke-width="0.45" stroke-linecap="round" stroke-linejoin="round" />
<path d="M772.40 262.15L772.56 262.46L772.67 262.81L772.72 263.18L772.71 263.57L772.65 263.96L772.51 264.35L772.31 264.72L772.05 265.07L771.73 265.38L771.35 265.65L770.92 265.85L770.46 266.00L769.96 266.07L769.45 266.06L768.93 265.97L768.43 265.80L767.94 265.54L767.49 265.21L767.09 264.80L766.75 264.32L766.48 263.79L766.29 263.21L766.19 262.59L766.19 261.95L766.28 261.31L766.48 260.68L766.78 260.08L767.17 259.52L767.66 259.01L768.23 258.58L768.86 258.24L769.56 257.99L770.29 257.85L771.05 257.82L771.82 257.92L772.58 258.13L773.31 258.46L773.99 258.90L774.60 259.45L775.13 260.10L775.56 260.83L775.88 261.64L776.07 262.49L776.14 263.37L776.07 264.27L775.85 265.16L775.50 266.02L775.02 266.82L774.41 267.55L773.69 268.19L772.87 268.72L771.97 269.12L771.00 269.38L769.99 269.49L768.97 269.45L767.95 269.25L766.96 268.90L766.03 268.39L765.17 267.73L764.42 266.95" fill="none" stroke="#a0633a" stroke-width="4.40" stroke-linecap="round" stroke-linejoin="round" />
<path d="M772.40 262.15L772.56 262.46L772.67 262.81L772.72 263.18L772.71 263.57L772.65 263.96L772.51 264.35L772.31 264.72L772.05 265.07L771.73 265.38L771.35 265.65L770.92 265.85L770.46 266.00L769.96 266.07L769.45 266.06L768.93 265.97L768.43 265.80L767.94 265.54L767.49 265.21L767.09 264.80L766.75 264.32L766.48 263.79L766.29 263.21L766.19 262.59L766.19 261.95L766.28 261.31L766.48 260.68L766.78 260.08L767.17 259.52L767.66 259.01L768.23 258.58L768.86 258.24L769.56 257.99L770.29 257.85L771.05 257.82L771.82 257.92L772.58 258.13L773.31 258.46L773.99 258.90L774.60 259.45L775.13 260.10L775.56 260.83L775.88 261.64L776.07 262.49L776.14 263.37L776.07 264.27L775.85 265.16L775.50 266.02L775.02 266.82L774.41 267.55L773.69 268.19L772.87 268.72L771.97 269.12L771.00 269.38L769.99 269.49L768.97 269.45L767.95 269.25L766.96 268.90L766.03 268.39L765.17 267.73L764.42 266.95" fill="none" stroke="#ecd6bf" stroke-width="2.80" stroke-linecap="butt" stroke-linejoin="round" stroke-dasharray="1.2 0.6"/>
<circle cx="793.40" cy="262.60" r="6.60" fill="none" stroke="#8d8676" stroke-width="5.20" />
<circle cx="793.40" cy="262.60" r="6.60" fill="none" stroke="#cbc4b4" stroke-width="3.80" stroke-dasharray="0.9 0.6"/>
<circle cx="793.40" cy="262.60" r="3.30" fill="#dcdce4" stroke="#8d8676" stroke-width="0.50" />
<path d="M790 253.8 L798 252.3" fill="none" stroke="#77808c" stroke-width="0.80" stroke-linecap="round" stroke-linejoin="round" />
<ellipse cx="815.40" cy="262.20" rx="6.60" ry="8.90" fill="#2b2119" stroke="#4a3c30" stroke-width="0.80" />
<path d="M834.23 261.28L834.22 260.94L834.28 260.59L834.39 260.24L834.58 259.90L834.82 259.59L835.13 259.32L835.49 259.09L835.89 258.92L836.33 258.82L836.80 258.80L837.28 258.85L837.75 258.99L838.21 259.20L838.64 259.50L839.02 259.88L839.34 260.32L839.59 260.83L839.75 261.38L839.83 261.97L839.80 262.57L839.68 263.18L839.45 263.77L839.12 264.32L838.70 264.83L838.18 265.26L837.59 265.62L836.94 265.88L836.24 266.03L835.51 266.06L834.77 265.97L834.04 265.76L833.35 265.43L832.71 264.98L832.13 264.42L831.65 263.76L831.28 263.02L831.03 262.22L830.91 261.37L830.93 260.50L831.10 259.63L831.41 258.79L831.86 258.00L832.44 257.28L833.14 256.66L833.95 256.15L834.84 255.77L835.79 255.54L836.79 255.47L837.79 255.56L838.78 255.82L839.73 256.24L840.61 256.82L841.39 257.54L842.06 258.39L842.58 259.35L842.95 260.40L843.14 261.50L843.15 262.64L842.97 263.77L842.61 264.88 L838.5 272" fill="none" stroke="#857d80" stroke-width="4.20" stroke-linecap="round" stroke-linejoin="round" />
<path d="M834.23 261.28L834.22 260.94L834.28 260.59L834.39 260.24L834.58 259.90L834.82 259.59L835.13 259.32L835.49 259.09L835.89 258.92L836.33 258.82L836.80 258.80L837.28 258.85L837.75 258.99L838.21 259.20L838.64 259.50L839.02 259.88L839.34 260.32L839.59 260.83L839.75 261.38L839.83 261.97L839.80 262.57L839.68 263.18L839.45 263.77L839.12 264.32L838.70 264.83L838.18 265.26L837.59 265.62L836.94 265.88L836.24 266.03L835.51 266.06L834.77 265.97L834.04 265.76L833.35 265.43L832.71 264.98L832.13 264.42L831.65 263.76L831.28 263.02L831.03 262.22L830.91 261.37L830.93 260.50L831.10 259.63L831.41 258.79L831.86 258.00L832.44 257.28L833.14 256.66L833.95 256.15L834.84 255.77L835.79 255.54L836.79 255.47L837.79 255.56L838.78 255.82L839.73 256.24L840.61 256.82L841.39 257.54L842.06 258.39L842.58 259.35L842.95 260.40L843.14 261.50L843.15 262.64L842.97 263.77L842.61 264.88 L838.5 272" fill="none" stroke="#efecec" stroke-width="3.00" stroke-linecap="butt" stroke-linejoin="round" stroke-dasharray="1.3 0.5"/>
<clipPath id="c1"><path d="M1029 3.4 C1035.5 3.4,1037.6 8,1038.2 12 C1039.8 15,1039.6 20,1038.6 24 C1038 29,1035.4 33,1034.6 37 C1034 42,1031.6 45.8,1029.3 45.8 C1027 45.8,1024.2 43,1023 37 C1021.8 32,1018.6 28,1018.2 22 C1017.6 17,1018.6 13,1019.8 10 C1021 6,1024 3.4,1029 3.4Z"/></clipPath>
<g clip-path="url(#c1)">
<rect x="1016.00" y="2.00" width="26.00" height="46.00" fill="#b4b4b4"/>
<path d="M1015 9.4 Q1029 2.6 1043 9.4" fill="none" stroke="#2f2f2f" stroke-width="1.15" stroke-linecap="round" stroke-linejoin="round" />
<path d="M1018.4 6.9 l-0.5 3.6" fill="none" stroke="#3a3a3a" stroke-width="0.80" stroke-linecap="round" stroke-linejoin="round" />
<path d="M1021.9 4.7 l-0.4 3.6" fill="none" stroke="#3a3a3a" stroke-width="0.80" stroke-linecap="round" stroke-linejoin="round" />
<path d="M1025.4 3.4 l-0.2 3.6" fill="none" stroke="#3a3a3a" stroke-width="0.80" stroke-linecap="round" stroke-linejoin="round" />
<path d="M1028.9 3.0 l-0.0 3.6" fill="none" stroke="#3a3a3a" stroke-width="0.80" stroke-linecap="round" stroke-linejoin="round" />
<path d="M1032.4 3.4 l0.2 3.6" fill="none" stroke="#3a3a3a" stroke-width="0.80" stroke-linecap="round" stroke-linejoin="round" />
<path d="M1035.9 4.7 l0.3 3.6" fill="none" stroke="#3a3a3a" stroke-width="0.80" stroke-linecap="round" stroke-linejoin="round" />
<path d="M1039.4 6.8 l0.5 3.6" fill="none" stroke="#3a3a3a" stroke-width="0.80" stroke-linecap="round" stroke-linejoin="round" />
<path d="M1015 13.1 Q1029 6.3 1043 13.1" fill="none" stroke="#2f2f2f" stroke-width="1.15" stroke-linecap="round" stroke-linejoin="round" />
<path d="M1020.1 9.4 l-0.4 3.6" fill="none" stroke="#3a3a3a" stroke-width="0.80" stroke-linecap="round" stroke-linejoin="round" />
<path d="M1023.6 7.7 l-0.3 3.6" fill="none" stroke="#3a3a3a" stroke-width="0.80" stroke-linecap="round" stroke-linejoin="round" />
<path d="M1027.2 6.8 l-0.1 3.6" fill="none" stroke="#3a3a3a" stroke-width="0.80" stroke-linecap="round" stroke-linejoin="round" />
<path d="M1030.7 6.8 l0.1 3.6" fill="none" stroke="#3a3a3a" stroke-width="0.80" stroke-linecap="round" stroke-linejoin="round" />
<path d="M1034.2 7.6 l0.3 3.6" fill="none" stroke="#3a3a3a" stroke-width="0.80" stroke-linecap="round" stroke-linejoin="round" />
<path d="M1037.7 9.3 l0.4 3.6" fill="none" stroke="#3a3a3a" stroke-width="0.80" stroke-linecap="round" stroke-linejoin="round" />
<path d="M1041.2 11.8 l0.6 3.6" fill="none" stroke="#3a3a3a" stroke-width="0.80" stroke-linecap="round" stroke-linejoin="round" />
<path d="M1015 16.8 Q1029 10.0 1043 16.8" fill="none" stroke="#2f2f2f" stroke-width="1.15" stroke-linecap="round" stroke-linejoin="round" />
<path d="M1018.4 14.3 l-0.5 3.6" fill="none" stroke="#3a3a3a" stroke-width="0.80" stroke-linecap="round" stroke-linejoin="round" />
<path d="M1021.9 12.1 l-0.4 3.6" fill="none" stroke="#3a3a3a" stroke-width="0.80" stroke-linecap="round" stroke-linejoin="round" />
<path d="M1025.4 10.8 l-0.2 3.6" fill="none" stroke="#3a3a3a" stroke-width="0.80" stroke-linecap="round" stroke-linejoin="round" />
<path d="M1028.9 10.4 l-0.0 3.6" fill="none" stroke="#3a3a3a" stroke-width="0.80" stroke-linecap="round" stroke-linejoin="round" />
<path d="M1032.4 10.8 l0.2 3.6" fill="none" stroke="#3a3a3a" stroke-width="0.80" stroke-linecap="round" stroke-linejoin="round" />
<path d="M1035.9 12.1 l0.3 3.6" fill="none" stroke="#3a3a3a" stroke-width="0.80" stroke-linecap="round" stroke-linejoin="round" />
<path d="M1039.4 14.2 l0.5 3.6" fill="none" stroke="#3a3a3a" stroke-width="0.80" stroke-linecap="round" stroke-linejoin="round" />
<path d="M1015 20.5 Q1029 13.7 1043 20.5" fill="none" stroke="#2f2f2f" stroke-width="1.15" stroke-linecap="round" stroke-linejoin="round" />
<path d="M1020.1 16.8 l-0.4 3.6" fill="none" stroke="#3a3a3a" stroke-width="0.80" stroke-linecap="round" stroke-linejoin="round" />
<path d="M1023.6 15.1 l-0.3 3.6" fill="none" stroke="#3a3a3a" stroke-width="0.80" stroke-linecap="round" stroke-linejoin="round" />
<path d="M1027.2 14.2 l-0.1 3.6" fill="none" stroke="#3a3a3a" stroke-width="0.80" stroke-linecap="round" stroke-linejoin="round" />
<path d="M1030.7 14.2 l0.1 3.6" fill="none" stroke="#3a3a3a" stroke-width="0.80" stroke-linecap="round" stroke-linejoin="round" />
<path d="M1034.2 15.0 l0.3 3.6" fill="none" stroke="#3a3a3a" stroke-width="0.80" stroke-linecap="round" stroke-linejoin="round" />
<path d="M1037.7 16.7 l0.4 3.6" fill="none" stroke="#3a3a3a" stroke-width="0.80" stroke-linecap="round" stroke-linejoin="round" />
<path d="M1041.2 19.2 l0.6 3.6" fill="none" stroke="#3a3a3a" stroke-width="0.80" stroke-linecap="round" stroke-linejoin="round" />
<path d="M1015 24.2 Q1029 17.4 1043 24.2" fill="none" stroke="#2f2f2f" stroke-width="1.15" stroke-linecap="round" stroke-linejoin="round" />
<path d="M1018.4 21.7 l-0.5 3.6" fill="none" stroke="#3a3a3a" stroke-width="0.80" stroke-linecap="round" stroke-linejoin="round" />
<path d="M1021.9 19.5 l-0.4 3.6" fill="none" stroke="#3a3a3a" stroke-width="0.80" stroke-linecap="round" stroke-linejoin="round" />
<path d="M1025.4 18.2 l-0.2 3.6" fill="none" stroke="#3a3a3a" stroke-width="0.80" stroke-linecap="round" stroke-linejoin="round" />
<path d="M1028.9 17.8 l-0.0 3.6" fill="none" stroke="#3a3a3a" stroke-width="0.80" stroke-linecap="round" stroke-linejoin="round" />
<path d="M1032.4 18.2 l0.2 3.6" fill="none" stroke="#3a3a3a" stroke-width="0.80" stroke-linecap="round" stroke-linejoin="round" />
<path d="M1035.9 19.5 l0.3 3.6" fill="none" stroke="#3a3a3a" stroke-width="0.80" stroke-linecap="round" stroke-linejoin="round" />
<path d="M1039.4 21.6 l0.5 3.6" fill="none" stroke="#3a3a3a" stroke-width="0.80" stroke-linecap="round" stroke-linejoin="round" />
<path d="M1015 27.9 Q1029 21.1 1043 27.9" fill="none" stroke="#2f2f2f" stroke-width="1.15" stroke-linecap="round" stroke-linejoin="round" />
<path d="M1020.1 24.2 l-0.4 3.6" fill="none" stroke="#3a3a3a" stroke-width="0.80" stroke-linecap="round" stroke-linejoin="round" />
<path d="M1023.6 22.5 l-0.3 3.6" fill="none" stroke="#3a3a3a" stroke-width="0.80" stroke-linecap="round" stroke-linejoin="round" />
<path d="M1027.2 21.6 l-0.1 3.6" fill="none" stroke="#3a3a3a" stroke-width="0.80" stroke-linecap="round" stroke-linejoin="round" />
<path d="M1030.7 21.6 l0.1 3.6" fill="none" stroke="#3a3a3a" stroke-width="0.80" stroke-linecap="round" stroke-linejoin="round" />
<path d="M1034.2 22.4 l0.3 3.6" fill="none" stroke="#3a3a3a" stroke-width="0.80" stroke-linecap="round" stroke-linejoin="round" />
<path d="M1037.7 24.1 l0.4 3.6" fill="none" stroke="#3a3a3a" stroke-width="0.80" stroke-linecap="round" stroke-linejoin="round" />
<path d="M1041.2 26.6 l0.6 3.6" fill="none" stroke="#3a3a3a" stroke-width="0.80" stroke-linecap="round" stroke-linejoin="round" />
<path d="M1015 31.6 Q1029 24.8 1043 31.6" fill="none" stroke="#2f2f2f" stroke-width="1.15" stroke-linecap="round" stroke-linejoin="round" />
<path d="M1018.4 29.1 l-0.5 3.6" fill="none" stroke="#3a3a3a" stroke-width="0.80" stroke-linecap="round" stroke-linejoin="round" />
<path d="M1021.9 26.9 l-0.4 3.6" fill="none" stroke="#3a3a3a" stroke-width="0.80" stroke-linecap="round" stroke-linejoin="round" />
<path d="M1025.4 25.6 l-0.2 3.6" fill="none" stroke="#3a3a3a" stroke-width="0.80" stroke-linecap="round" stroke-linejoin="round" />
<path d="M1028.9 25.2 l-0.0 3.6" fill="none" stroke="#3a3a3a" stroke-width="0.80" stroke-linecap="round" stroke-linejoin="round" />
<path d="M1032.4 25.6 l0.2 3.6" fill="none" stroke="#3a3a3a" stroke-width="0.80" stroke-linecap="round" stroke-linejoin="round" />
<path d="M1035.9 26.9 l0.3 3.6" fill="none" stroke="#3a3a3a" stroke-width="0.80" stroke-linecap="round" stroke-linejoin="round" />
<path d="M1039.4 29.0 l0.5 3.6" fill="none" stroke="#3a3a3a" stroke-width="0.80" stroke-linecap="round" stroke-linejoin="round" />
<path d="M1015 35.3 Q1029 28.5 1043 35.3" fill="none" stroke="#2f2f2f" stroke-width="1.15" stroke-linecap="round" stroke-linejoin="round" />
<path d="M1020.1 31.6 l-0.4 3.6" fill="none" stroke="#3a3a3a" stroke-width="0.80" stroke-linecap="round" stroke-linejoin="round" />
<path d="M1023.6 29.9 l-0.3 3.6" fill="none" stroke="#3a3a3a" stroke-width="0.80" stroke-linecap="round" stroke-linejoin="round" />
<path d="M1027.2 29.0 l-0.1 3.6" fill="none" stroke="#3a3a3a" stroke-width="0.80" stroke-linecap="round" stroke-linejoin="round" />
<path d="M1030.7 29.0 l0.1 3.6" fill="none" stroke="#3a3a3a" stroke-width="0.80" stroke-linecap="round" stroke-linejoin="round" />
<path d="M1034.2 29.8 l0.3 3.6" fill="none" stroke="#3a3a3a" stroke-width="0.80" stroke-linecap="round" stroke-linejoin="round" />
<path d="M1037.7 31.5 l0.4 3.6" fill="none" stroke="#3a3a3a" stroke-width="0.80" stroke-linecap="round" stroke-linejoin="round" />
<path d="M1041.2 34.0 l0.6 3.6" fill="none" stroke="#3a3a3a" stroke-width="0.80" stroke-linecap="round" stroke-linejoin="round" />
<path d="M1015 37.2 Q1029 34.0 1043 37.2" fill="none" stroke="#2f2f2f" stroke-width="1.15" stroke-linecap="round" stroke-linejoin="round" />
<path d="M1018.4 36.2 l-0.5 3.6" fill="none" stroke="#3a3a3a" stroke-width="0.80" stroke-linecap="round" stroke-linejoin="round" />
<path d="M1021.9 35.2 l-0.4 3.6" fill="none" stroke="#3a3a3a" stroke-width="0.80" stroke-linecap="round" stroke-linejoin="round" />
<path d="M1025.4 34.6 l-0.2 3.6" fill="none" stroke="#3a3a3a" stroke-width="0.80" stroke-linecap="round" stroke-linejoin="round" />
<path d="M1028.9 34.4 l-0.0 3.6" fill="none" stroke="#3a3a3a" stroke-width="0.80" stroke-linecap="round" stroke-linejoin="round" />
<path d="M1032.4 34.6 l0.2 3.6" fill="none" stroke="#3a3a3a" stroke-width="0.80" stroke-linecap="round" stroke-linejoin="round" />
<path d="M1035.9 35.2 l0.3 3.6" fill="none" stroke="#3a3a3a" stroke-width="0.80" stroke-linecap="round" stroke-linejoin="round" />
<path d="M1039.4 36.2 l0.5 3.6" fill="none" stroke="#3a3a3a" stroke-width="0.80" stroke-linecap="round" stroke-linejoin="round" />
<path d="M1015 40.9 Q1029 37.7 1043 40.9" fill="none" stroke="#2f2f2f" stroke-width="1.15" stroke-linecap="round" stroke-linejoin="round" />
<path d="M1020.1 39.4 l-0.4 3.6" fill="none" stroke="#3a3a3a" stroke-width="0.80" stroke-linecap="round" stroke-linejoin="round" />
<path d="M1023.6 38.6 l-0.3 3.6" fill="none" stroke="#3a3a3a" stroke-width="0.80" stroke-linecap="round" stroke-linejoin="round" />
<path d="M1027.2 38.2 l-0.1 3.6" fill="none" stroke="#3a3a3a" stroke-width="0.80" stroke-linecap="round" stroke-linejoin="round" />
<path d="M1030.7 38.1 l0.1 3.6" fill="none" stroke="#3a3a3a" stroke-width="0.80" stroke-linecap="round" stroke-linejoin="round" />
<path d="M1034.2 38.5 l0.3 3.6" fill="none" stroke="#3a3a3a" stroke-width="0.80" stroke-linecap="round" stroke-linejoin="round" />
<path d="M1037.7 39.3 l0.4 3.6" fill="none" stroke="#3a3a3a" stroke-width="0.80" stroke-linecap="round" stroke-linejoin="round" />
<path d="M1041.2 40.5 l0.6 3.6" fill="none" stroke="#3a3a3a" stroke-width="0.80" stroke-linecap="round" stroke-linejoin="round" />
<path d="M1015 44.6 Q1029 41.4 1043 44.6" fill="none" stroke="#2f2f2f" stroke-width="1.15" stroke-linecap="round" stroke-linejoin="round" />
<path d="M1018.4 43.6 l-0.5 3.6" fill="none" stroke="#3a3a3a" stroke-width="0.80" stroke-linecap="round" stroke-linejoin="round" />
<path d="M1021.9 42.6 l-0.4 3.6" fill="none" stroke="#3a3a3a" stroke-width="0.80" stroke-linecap="round" stroke-linejoin="round" />
<path d="M1025.4 42.0 l-0.2 3.6" fill="none" stroke="#3a3a3a" stroke-width="0.80" stroke-linecap="round" stroke-linejoin="round" />
<path d="M1028.9 41.8 l-0.0 3.6" fill="none" stroke="#3a3a3a" stroke-width="0.80" stroke-linecap="round" stroke-linejoin="round" />
<path d="M1032.4 42.0 l0.2 3.6" fill="none" stroke="#3a3a3a" stroke-width="0.80" stroke-linecap="round" stroke-linejoin="round" />
<path d="M1035.9 42.6 l0.3 3.6" fill="none" stroke="#3a3a3a" stroke-width="0.80" stroke-linecap="round" stroke-linejoin="round" />
<path d="M1039.4 43.6 l0.5 3.6" fill="none" stroke="#3a3a3a" stroke-width="0.80" stroke-linecap="round" stroke-linejoin="round" />
<ellipse cx="1029.60" cy="18.30" rx="3.30" ry="1.10" fill="#f6f6f6" stroke="#333" stroke-width="0.50" />
<ellipse cx="1029.40" cy="26.30" rx="3.00" ry="1.10" fill="#f6f6f6" stroke="#333" stroke-width="0.50" />
<ellipse cx="1029.20" cy="10.60" rx="2.60" ry="1.00" fill="#d8d8d8" stroke="none" stroke-width="0.00" />
<circle cx="1029.20" cy="40.60" r="3.90" fill="#b4b4b4" stroke="#333" stroke-width="0.90" />
<path d="M1029.70 40.60L1029.73 40.68L1029.74 40.78L1029.74 40.87L1029.72 40.98L1029.68 41.08L1029.62 41.17L1029.54 41.26L1029.44 41.34L1029.33 41.40L1029.20 41.45L1029.06 41.47L1028.92 41.47L1028.77 41.45L1028.62 41.40L1028.48 41.32L1028.34 41.22L1028.22 41.10L1028.13 40.95L1028.05 40.78L1028.00 40.60L1027.98 40.41L1027.99 40.21L1028.04 40.01L1028.12 39.81L1028.23 39.63L1028.37 39.46L1028.54 39.31L1028.74 39.19L1028.96 39.10L1029.20 39.05L1029.45 39.03L1029.70 39.06L1029.95 39.13L1030.19 39.23L1030.42 39.38L1030.62 39.57L1030.80 39.79L1030.94 40.03L1031.04 40.31L1031.10 40.60L1031.11 40.90L1031.07 41.21L1030.99 41.51L1030.85 41.80L1030.67 42.07L1030.44 42.31L1030.17 42.51L1029.87 42.67L1029.55 42.79L1029.20 42.85L1028.84 42.86L1028.48 42.81L1028.13 42.70L1027.80 42.53L1027.49 42.31L1027.21 42.05L1026.98 41.73L1026.79 41.38L1026.67 41.00L1026.60 40.60" fill="none" stroke="#333" stroke-width="0.80" stroke-linecap="round" stroke-linejoin="round" />
</g>
<path d="M1029 3.4 C1035.5 3.4,1037.6 8,1038.2 12 C1039.8 15,1039.6 20,1038.6 24 C1038 29,1035.4 33,1034.6 37 C1034 42,1031.6 45.8,1029.3 45.8 C1027 45.8,1024.2 43,1023 37 C1021.8 32,1018.6 28,1018.2 22 C1017.6 17,1018.6 13,1019.8 10 C1021 6,1024 3.4,1029 3.4Z" fill="none" stroke="#333" stroke-width="0.90" stroke-linecap="round" stroke-linejoin="round" />
<path d="M1022.4 61.8 C1021.4 57.5,1023.6 54.6,1026.3 54.9 C1030.6 55.5,1032.6 60,1032.9 66" fill="none" stroke="#4a4a4a" stroke-width="1.70" stroke-linecap="round" stroke-linejoin="round" />
<path d="M1032.9 66 L1032.4 83.2" fill="none" stroke="#555" stroke-width="1.70" stroke-linecap="butt" stroke-linejoin="round" stroke-dasharray="0.8 0.45" />
<path d="M1031.8 66 L1031.6 82" fill="none" stroke="#666" stroke-width="0.50" stroke-linecap="round" stroke-linejoin="round" />
<path d="M1034 94.4 C1027 92.6,1020.6 96.5,1021.3 102.5 C1021.9 107.5,1027.5 108.6,1030.5 107.2" fill="none" stroke="#474747" stroke-width="0.72" stroke-linecap="round" stroke-linejoin="round" />
<path d="M1033 94.2 C1039.5 96,1042.2 105,1040.4 111.5 C1039.6 115,1037 116.6,1037.6 117.4" fill="none" stroke="#474747" stroke-width="0.72" stroke-linecap="round" stroke-linejoin="round" />
<path d="M1027 107.6 C1021.5 108.6,1020 114.6,1024.6 116.4 C1028 117.4,1029.6 114.4,1027.4 113.2 C1030.5 110.6,1036 110.8,1038 113.4" fill="none" stroke="#474747" stroke-width="0.72" stroke-linecap="round" stroke-linejoin="round" />
<path d="M1029.87 101.42L1029.77 101.56L1029.62 101.67L1029.42 101.73L1029.18 101.73L1028.94 101.65L1028.72 101.49L1028.54 101.26L1028.42 100.96L1028.39 100.62L1028.47 100.26L1028.66 99.92L1028.95 99.63L1029.32 99.42L1029.77 99.32L1030.24 99.35L1030.72 99.51L1031.14 99.82L1031.48 100.24L1031.70 100.77L1031.77 101.36L1031.67 101.96L1031.40 102.54L1030.97 103.04L1030.40 103.41L1029.72 103.62L1029.00 103.64L1028.27 103.46L1027.60 103.07L1027.04 102.50L1026.65 101.77L1026.47 100.95L1026.51 100.09L1026.80 99.24L1027.32 98.49L1028.04 97.90L1028.91 97.51L1029.89 97.37L1030.88 97.50L1031.83 97.90L1032.64 98.56L1033.27 99.44L1033.64 100.47L1033.71 101.59L1033.48 102.70L1032.95 103.74L1032.14 104.61L1031.10 105.24L1029.91 105.57L1028.65 105.57L1027.42 105.22L1026.31 104.54L1025.41 103.57L1024.79 102.37L1024.51 101.03L1024.61 99.63L1025.09 98.30L1025.92 97.12L1027.06 96.20L1028.42 95.61L1029.92 95.41" fill="none" stroke="#5a5a5a" stroke-width="0.60" stroke-linecap="round" stroke-linejoin="round" />
<path d="M1026 112.5 l3 -1 M1030 113.5 l3 -1.5 M1033 114.5 l2 -2 M1035 116 l1 -2.5" fill="none" stroke="#666" stroke-width="0.50" stroke-linecap="round" stroke-linejoin="round" />
<path d="M1025.5 99 l2 1.4 M1029 97.5 l1 2 M1032.5 99 l-1 2 M1033.5 103 l-2 .5 M1031 105.5 l-1.2 -1.6" fill="none" stroke="#555" stroke-width="0.50" stroke-linecap="round" stroke-linejoin="round" />
<rect x="1011.90" y="126.80" width="38.60" height="25.30" fill="#d0d0d0"/>
<clipPath id="c4"><rect x="1011.9" y="126.8" width="38.6" height="25.3"/></clipPath><g clip-path="url(#c4)">
<path d="M1013 127.6 L1020 127.8" fill="none" stroke="#3a2612" stroke-width="1.60" stroke-linecap="round" stroke-linejoin="round" />
<path d="M1032.5 133 C1028 128.6,1021.5 131.5,1024.5 136.5 C1026.5 139.8,1031 140,1032.5 143.6 C1033.6 146.6,1031 148,1029.5 146.4" fill="none" stroke="#24160a" stroke-width="4.60" stroke-linecap="round" stroke-linejoin="round" />
<path d="M1029 142.4 C1024 144,1019.5 147.5,1015.5 150.5" fill="none" stroke="#2a1a0c" stroke-width="4.40" stroke-linecap="round" stroke-linejoin="round" />
<circle cx="1043.30" cy="132.60" r="4.40" fill="#24160a" stroke="#3a2612" stroke-width="0.60" />
<circle cx="1040.60" cy="134.20" r="2.20" fill="#2d1c0e" stroke="none" stroke-width="0.00" />
<path d="M1034.5 141.5 C1038 137.6,1044 139,1050 138" fill="none" stroke="#6f5736" stroke-width="0.90" stroke-linecap="round" stroke-linejoin="round" />
<circle cx="1036.60" cy="141.60" r="1.40" fill="#5c4426" stroke="none" stroke-width="0.00" />
<path d="M1049.6 137 C1047.5 142,1046.8 146,1045.6 152" fill="none" stroke="#a8987c" stroke-width="1.00" stroke-linecap="round" stroke-linejoin="round" />
<path d="M1044.4 142 l1.8 1.5" fill="none" stroke="#8a7656" stroke-width="0.90" stroke-linecap="round" stroke-linejoin="round" />
</g>
<circle cx="1019.70" cy="177.30" r="6.30" fill="#f6f6f6" stroke="#262626" stroke-width="1.05" />
<path d="M1014 175.4 Q1019.6 171.6 1025 175 M1016.8 172.2 L1019 178 L1024.4 174.6 M1019 178 L1017 182.8 M1014.2 180 Q1019 184.6 1025 181" fill="none" stroke="#262626" stroke-width="0.70" stroke-linecap="round" stroke-linejoin="round" />
<circle cx="1037.30" cy="171.90" r="8.70" fill="#f6f6f6" stroke="#262626" stroke-width="1.05" />
<path d="M1030.4 167.4 Q1037.5 161.4 1044.2 168.4 Q1046.8 174 1041.6 179.4" fill="none" stroke="#262626" stroke-width="0.80" stroke-linecap="round" stroke-linejoin="round" />
<circle cx="1030.20" cy="179.20" r="6.20" fill="#f6f6f6" stroke="#262626" stroke-width="1.05" />
<ellipse cx="1030.60" cy="177.60" rx="3.30" ry="2.60" fill="#fff" stroke="#262626" stroke-width="0.80" />
<path d="M1033 169.6 L1036.2 173.6 L1040.6 171 M1036.2 173.6 L1034.6 178.6 M1040.2 167 L1036.4 169.8 M1026.6 184 L1028.6 180.6 M1033 184.4 L1032.4 181" fill="none" stroke="#262626" stroke-width="0.70" stroke-linecap="round" stroke-linejoin="round" />
<path d="M1035.8 183.6 L1035.6 195.6 L1039.4 195.6 L1040.2 181.8" fill="#f4f4f4" stroke="#262626" stroke-width="0.80" stroke-linecap="round" stroke-linejoin="round" />
<path d="M1042.6 219.4 C1038 226,1035 232,1033.2 239.6" fill="none" stroke="#555" stroke-width="0.60" stroke-linecap="round" stroke-linejoin="round" />
<path d="M1028.2 222 C1027.4 228,1033 230,1029.2 238.6" fill="none" stroke="#444" stroke-width="0.70" stroke-linecap="round" stroke-linejoin="round" />
<path d="M1024.6 206 L1025.6 211 M1026.2 205.4 L1026.6 210.6" fill="none" stroke="#999" stroke-width="0.50" stroke-linecap="round" stroke-linejoin="round" />
<path d="M1023 237 C1022.4 230,1023 224,1022.9 219 C1022.8 213,1026 210,1030 210.2 C1034 210.4,1036.6 212,1037.4 215.4" fill="none" stroke="#3c3c3c" stroke-width="3.60" stroke-linecap="round" stroke-linejoin="round" />
<path d="M1023 236 C1022.4 230,1023 224,1022.9 219 C1022.8 213.6,1026 211,1030 211.2" fill="none" stroke="#8a8a8a" stroke-width="1.60" stroke-linecap="butt" stroke-linejoin="round" stroke-dasharray="2.2 1.2" />
<circle cx="1033.60" cy="221.60" r="5.60" fill="#4a4a4a" stroke="#2c2c2c" stroke-width="0.90" />
<rect x="1030.60" y="219.60" width="3.60" height="5.20" fill="#8c8c8c"/>
<path d="M1029 218 L1038.4 218.6 M1034.4 218.4 L1034.6 227" fill="none" stroke="#2a2a2a" stroke-width="0.70" stroke-linecap="round" stroke-linejoin="round" />
<path d="M1034.6 214 C1038 214.6,1039.6 217,1039 220" fill="none" stroke="#333" stroke-width="1.60" stroke-linecap="round" stroke-linejoin="round" />
<ellipse cx="1015.80" cy="220.20" rx="2.30" ry="2.90" fill="#6a6a6a" stroke="#3a3a3a" stroke-width="0.60" />
<ellipse cx="1014.60" cy="226.00" rx="2.60" ry="1.70" fill="#6a6a6a" stroke="#3a3a3a" stroke-width="0.60" />
<path d="M1016.4 224 C1019.4 226,1021 227.6,1021.8 231" fill="none" stroke="#444" stroke-width="1.20" stroke-linecap="round" stroke-linejoin="round" />
<rect x="970.90" y="249.80" width="22.00" height="22.10" fill="#bdbdc0"/>
<rect x="995.00" y="249.10" width="28.00" height="23.10" fill="#abb0c0"/>
<rect x="1025.00" y="249.80" width="22.20" height="21.90" fill="#b4b6bc"/>
<rect x="1049.10" y="249.40" width="24.80" height="22.50" fill="#b9b9bd"/>
<path d="M982.22 260.76L982.39 260.92L982.56 261.11L982.70 261.32L982.83 261.56L982.93 261.81L983.00 262.07L983.04 262.35L983.06 262.64L983.04 262.94L982.98 263.24L982.90 263.54L982.78 263.83L982.62 264.12L982.43 264.39L982.21 264.64L981.95 264.87L981.67 265.08L981.36 265.26L981.02 265.41L980.67 265.52L980.30 265.60L979.91 265.63L979.52 265.63L979.12 265.58L978.73 265.49L978.34 265.35L977.96 265.17L977.59 264.94L977.25 264.68L976.93 264.37L976.65 264.03L976.39 263.65L976.18 263.24L976.01 262.80L975.88 262.35L975.80 261.87L975.77 261.38L975.80 260.89L975.88 260.39L976.01 259.90L976.20 259.41L976.44 258.95L976.73 258.50L977.07 258.09L977.46 257.71L977.90 257.37L978.37 257.07L978.88 256.82L979.42 256.62L979.98 256.48L980.56 256.40L981.15 256.38L981.75 256.43L982.35 256.54L982.94 256.71L983.51 256.95L984.06 257.25L984.59 257.61L985.07 258.03L985.52 258.50 Q989.6 259 988.6 253" fill="none" stroke="#7e7878" stroke-width="3.60" stroke-linecap="round" stroke-linejoin="round" />
<path d="M982.22 260.76L982.39 260.92L982.56 261.11L982.70 261.32L982.83 261.56L982.93 261.81L983.00 262.07L983.04 262.35L983.06 262.64L983.04 262.94L982.98 263.24L982.90 263.54L982.78 263.83L982.62 264.12L982.43 264.39L982.21 264.64L981.95 264.87L981.67 265.08L981.36 265.26L981.02 265.41L980.67 265.52L980.30 265.60L979.91 265.63L979.52 265.63L979.12 265.58L978.73 265.49L978.34 265.35L977.96 265.17L977.59 264.94L977.25 264.68L976.93 264.37L976.65 264.03L976.39 263.65L976.18 263.24L976.01 262.80L975.88 262.35L975.80 261.87L975.77 261.38L975.80 260.89L975.88 260.39L976.01 259.90L976.20 259.41L976.44 258.95L976.73 258.50L977.07 258.09L977.46 257.71L977.90 257.37L978.37 257.07L978.88 256.82L979.42 256.62L979.98 256.48L980.56 256.40L981.15 256.38L981.75 256.43L982.35 256.54L982.94 256.71L983.51 256.95L984.06 257.25L984.59 257.61L985.07 258.03L985.52 258.50 Q989.6 259 988.6 253" fill="none" stroke="#d3d8d3" stroke-width="2.60" stroke-linecap="butt" stroke-linejoin="round" stroke-dasharray="1.2 0.5"/>
<path d="M1001.4 267.6 C1000 258,1006 253.6,1010.5 254.6 C1016 256,1019 263,1019.6 268.6" fill="none" stroke="#6e7488" stroke-width="5.20" stroke-linecap="round" stroke-linejoin="round" />
<path d="M1001.4 267.6 C1000 258,1006 253.6,1010.5 254.6 C1016 256,1019 263,1019.6 268.6" fill="none" stroke="#cdd6e0" stroke-width="3.80" stroke-linecap="butt" stroke-linejoin="round" stroke-dasharray="1.3 0.6"/>
<circle cx="1035.60" cy="261.20" r="7.80" fill="#8f7d6e" stroke="#c9c5c0" stroke-width="1.00" />
<path d="M1035.6 261.2 l-6 -4 M1035.6 261.2 l-2 -7 M1035.6 261.2 l3 -7 M1035.6 261.2 l7 -3 M1035.6 261.2 l-7 2 M1035.6 261.2 l-3 6.6 M1035.6 261.2 l6 5 M1035.6 261.2 l1 7.6" fill="none" stroke="#5c4838" stroke-width="0.60" stroke-linecap="round" stroke-linejoin="round" />
<path d="M1034.4 262 L1034.8 269.6" fill="none" stroke="#c9c5c8" stroke-width="1.20" stroke-linecap="round" stroke-linejoin="round" />
<circle cx="1062.60" cy="261.00" r="9.20" fill="#d6cec6" stroke="#8c7c7c" stroke-width="0.80" />
<path d="M1063.08 262.08L1063.08 262.26L1063.04 262.46L1062.97 262.65L1062.85 262.84L1062.70 263.02L1062.50 263.17L1062.28 263.30L1062.02 263.39L1061.73 263.44L1061.43 263.45L1061.12 263.40L1060.80 263.30L1060.49 263.14L1060.20 262.93L1059.94 262.67L1059.71 262.36L1059.53 262.00L1059.40 261.61L1059.33 261.18L1059.33 260.74L1059.39 260.29L1059.53 259.84L1059.74 259.40L1060.03 258.99L1060.38 258.61L1060.80 258.29L1061.27 258.02L1061.79 257.82L1062.35 257.70L1062.94 257.67L1063.54 257.72L1064.14 257.87L1064.72 258.11L1065.27 258.45L1065.78 258.87L1066.23 259.37L1066.60 259.95L1066.89 260.59L1067.09 261.28L1067.18 262.01L1067.17 262.75L1067.04 263.50L1066.80 264.24L1066.44 264.94L1065.98 265.60L1065.41 266.19L1064.75 266.70L1064.01 267.11L1063.20 267.41L1062.34 267.60L1061.45 267.65L1060.55 267.58L1059.65 267.36L1058.79 267.01L1057.97 266.53L1057.22 265.93L1056.55 265.21L1056.00 264.38L1055.56 263.47L1055.26 262.50" fill="none" stroke="#9a8a8a" stroke-width="0.70" stroke-linecap="round" stroke-linejoin="round" />
<path d="M1050.6 256 Q1055 252.6 1060 254.6" fill="none" stroke="#8c7c7c" stroke-width="0.80" stroke-linecap="round" stroke-linejoin="round" />
<circle cx="1062.40" cy="261.80" r="1.10" fill="#7a6a70" stroke="none" stroke-width="0.00" />
<circle cx="978.40" cy="294.60" r="9.40" fill="#bdbdbd" stroke="#3c3c3c" stroke-width="0.80" />
<path d="M977.00 297.18L976.63 297.06L976.27 296.88L975.94 296.63L975.64 296.33L975.39 295.97L975.20 295.57L975.07 295.12L975.01 294.65L975.02 294.17L975.12 293.68L975.30 293.21L975.56 292.75L975.89 292.34L976.29 291.97L976.76 291.67L977.28 291.44L977.84 291.30L978.43 291.24L979.04 291.29L979.64 291.42L980.22 291.66L980.77 291.99L981.26 292.41L981.69 292.92L982.05 293.49L982.31 294.13L982.47 294.81L982.52 295.52L982.45 296.24L982.27 296.96L981.98 297.64L981.57 298.28L981.06 298.86L980.46 299.36L979.77 299.76L979.02 300.06L978.22 300.23L977.39 300.28L976.55 300.19L975.73 299.97L974.93 299.62L974.20 299.14L973.54 298.54L972.97 297.83L972.52 297.04L972.19 296.17L972.00 295.25L971.96 294.30L972.07 293.35L972.33 292.41L972.74 291.51L973.30 290.68L973.98 289.94L974.79 289.30L975.69 288.80L976.68 288.44L977.72 288.24L978.79 288.20L979.86 288.33L980.91 288.63" fill="none" stroke="#444" stroke-width="0.70" stroke-linecap="round" stroke-linejoin="round" />
<ellipse cx="975.60" cy="295.60" rx="2.20" ry="1.60" fill="#fafafa" stroke="none" stroke-width="0.00" />
<path d="M971 290 L976 292 M984 287 L981 292 M987 296 L982.6 296 M984 302 L981 298.6 M976 303.6 L977 299.6 M969.6 297 L973 296" fill="none" stroke="#444" stroke-width="0.60" stroke-linecap="round" stroke-linejoin="round" />
<path d="M972.4 301 C970.6 305,974.4 309,973.2 314.4" fill="none" stroke="#4c4c4c" stroke-width="2.60" stroke-linecap="round" stroke-linejoin="round" />
<path d="M972.4 301 C970.6 305,974.4 309,973.2 314.4" fill="none" stroke="#e4e4e4" stroke-width="1.40" stroke-linecap="round" stroke-linejoin="round" />
<circle cx="1001.70" cy="299.70" r="10.80" fill="#8e8e8e" stroke="#555" stroke-width="0.70" />
<circle cx="1001.70" cy="299.70" r="2.60" fill="#d9d9d9" stroke="#777" stroke-width="0.40" />
<circle cx="997.10" cy="298.10" r="2.30" fill="#d9d9d9" stroke="#777" stroke-width="0.40" />
<circle cx="1006.30" cy="298.70" r="2.30" fill="#d9d9d9" stroke="#777" stroke-width="0.40" />
<circle cx="999.70" cy="294.10" r="2.20" fill="#d9d9d9" stroke="#777" stroke-width="0.40" />
<circle cx="1004.70" cy="294.10" r="2.20" fill="#d9d9d9" stroke="#777" stroke-width="0.40" />
<circle cx="999.10" cy="304.30" r="2.30" fill="#d9d9d9" stroke="#777" stroke-width="0.40" />
<circle cx="1004.30" cy="304.50" r="2.30" fill="#d9d9d9" stroke="#777" stroke-width="0.40" />
<circle cx="994.10" cy="302.70" r="1.90" fill="#d9d9d9" stroke="#777" stroke-width="0.40" />
<circle cx="1009.30" cy="303.30" r="1.90" fill="#d9d9d9" stroke="#777" stroke-width="0.40" />
<circle cx="994.70" cy="294.70" r="1.80" fill="#d9d9d9" stroke="#777" stroke-width="0.40" />
<circle cx="1009.10" cy="294.30" r="1.80" fill="#d9d9d9" stroke="#777" stroke-width="0.40" />
<circle cx="1001.70" cy="308.30" r="1.90" fill="#d9d9d9" stroke="#777" stroke-width="0.40" />
<circle cx="1002.10" cy="290.70" r="1.70" fill="#d9d9d9" stroke="#777" stroke-width="0.40" />
<circle cx="996.10" cy="307.30" r="1.60" fill="#d9d9d9" stroke="#777" stroke-width="0.40" />
<circle cx="1007.30" cy="307.70" r="1.60" fill="#d9d9d9" stroke="#777" stroke-width="0.40" />
<path d="M1020.6 303 C1022 307,1026 308,1031.4 311.2" fill="none" stroke="#1a1a1a" stroke-width="1.80" stroke-linecap="round" stroke-linejoin="round" />
<ellipse cx="1023.60" cy="295.80" rx="8.20" ry="7.80" fill="#101010" stroke="#000" stroke-width="0.50" transform="rotate(-15.0 1023.60 295.80)" />
<ellipse cx="1027.60" cy="295.00" rx="5.40" ry="6.60" fill="#1e1e1e" stroke="none" stroke-width="0.00" />
<ellipse cx="1029.40" cy="296.00" rx="1.60" ry="3.20" fill="#555" stroke="none" stroke-width="0.00" />
<path d="M1019.6 300 C1020 304,1021.6 306,1024 306.6" fill="none" stroke="#111" stroke-width="2.80" stroke-linecap="round" stroke-linejoin="round" />
<circle cx="1043.00" cy="294.40" r="6.40" fill="#e2e2e2" stroke="#444" stroke-width="0.80" />
<path d="M1037 293 L1049 294.6 M1042.6 288 L1043.4 300.6 M1039 289.6 Q1043 292 1047.4 290 M1039 299 Q1043 296.6 1047.6 299" fill="none" stroke="#444" stroke-width="0.60" stroke-linecap="round" stroke-linejoin="round" />
<circle cx="1043.00" cy="293.60" r="2.40" fill="#bbb" stroke="#444" stroke-width="0.50" />
<path d="M1045.6 300.4 C1050 300,1054 303,1052.4 307 C1051.6 309.6,1050.4 311,1049.8 312.6" fill="none" stroke="#444" stroke-width="1.90" stroke-linecap="round" stroke-linejoin="round" />
<path d="M1045.6 300.4 C1050 300,1054 303,1052.4 307 C1051.6 309.6,1050.4 311,1049.8 312.6" fill="none" stroke="#e0e0e0" stroke-width="0.80" stroke-linecap="round" stroke-linejoin="round" />
<path d="M1068 300.6 C1063 300,1059.6 302.6,1058.8 306.6 C1062 307.6,1067 306.8,1071.6 308" fill="none" stroke="#3a3a3a" stroke-width="1.60" stroke-linecap="round" stroke-linejoin="round" />
<path d="M1068 300.6 C1063 300,1059.6 302.6,1058.8 306.6 C1062 307.6,1067 306.8,1071.6 308" fill="none" stroke="#bdbdbd" stroke-width="0.50" stroke-linecap="round" stroke-linejoin="round" />
<ellipse cx="1065.20" cy="293.40" rx="3.70" ry="4.00" fill="#161616" stroke="#000" stroke-width="0.40" />
<ellipse cx="1072.60" cy="298.40" rx="4.10" ry="3.90" fill="#1d1d1d" stroke="#000" stroke-width="0.40" />
<circle cx="1068.60" cy="297.60" r="2.40" fill="#222" stroke="none" stroke-width="0.00" />
<circle cx="1073.40" cy="297.60" r="1.30" fill="#555" stroke="none" stroke-width="0.00" />
<clipPath id="c9"><ellipse cx="1031.8" cy="338.2" rx="12.8" ry="14.6" transform="rotate(12 1031.8 338.2)"/></clipPath>
<ellipse cx="1031.80" cy="338.20" rx="12.80" ry="14.60" fill="#fbfbfb" stroke="#4a4a4a" stroke-width="0.80" transform="rotate(12.0 1031.80 338.20)" stroke-dasharray="3 0.5"/>
<g clip-path="url(#c9)">
<path d="M1016 328.6 Q1031 326.0 1048 329.0" fill="none" stroke="#6a6a6a" stroke-width="0.55" stroke-linecap="round" stroke-linejoin="round" />
<path d="M1018.0 327.4 l0.2 3.4" fill="none" stroke="#777" stroke-width="0.50" stroke-linecap="round" stroke-linejoin="round" />
<path d="M1023.0 327.4 l0.2 3.4" fill="none" stroke="#777" stroke-width="0.50" stroke-linecap="round" stroke-linejoin="round" />
<path d="M1028.0 327.4 l0.2 3.4" fill="none" stroke="#777" stroke-width="0.50" stroke-linecap="round" stroke-linejoin="round" />
<path d="M1033.0 327.4 l0.2 3.4" fill="none" stroke="#777" stroke-width="0.50" stroke-linecap="round" stroke-linejoin="round" />
<path d="M1038.0 327.4 l0.2 3.4" fill="none" stroke="#777" stroke-width="0.50" stroke-linecap="round" stroke-linejoin="round" />
<path d="M1043.0 327.4 l0.2 3.4" fill="none" stroke="#777" stroke-width="0.50" stroke-linecap="round" stroke-linejoin="round" />
<path d="M1016 332.0 Q1031 329.4 1048 332.4" fill="none" stroke="#4a4a4a" stroke-width="0.70" stroke-linecap="round" stroke-linejoin="round" />
<path d="M1020.5 330.8 l0.2 3.4" fill="none" stroke="#777" stroke-width="0.50" stroke-linecap="round" stroke-linejoin="round" />
<path d="M1025.5 330.8 l0.2 3.4" fill="none" stroke="#777" stroke-width="0.50" stroke-linecap="round" stroke-linejoin="round" />
<path d="M1030.5 330.8 l0.2 3.4" fill="none" stroke="#777" stroke-width="0.50" stroke-linecap="round" stroke-linejoin="round" />
<path d="M1035.5 330.8 l0.2 3.4" fill="none" stroke="#777" stroke-width="0.50" stroke-linecap="round" stroke-linejoin="round" />
<path d="M1040.5 330.8 l0.2 3.4" fill="none" stroke="#777" stroke-width="0.50" stroke-linecap="round" stroke-linejoin="round" />
<path d="M1045.5 330.8 l0.2 3.4" fill="none" stroke="#777" stroke-width="0.50" stroke-linecap="round" stroke-linejoin="round" />
<path d="M1016 335.4 Q1031 332.8 1048 335.8" fill="none" stroke="#4a4a4a" stroke-width="0.70" stroke-linecap="round" stroke-linejoin="round" />
<path d="M1018.0 334.2 l0.2 3.4" fill="none" stroke="#777" stroke-width="0.50" stroke-linecap="round" stroke-linejoin="round" />
<path d="M1023.0 334.2 l0.2 3.4" fill="none" stroke="#777" stroke-width="0.50" stroke-linecap="round" stroke-linejoin="round" />
<path d="M1028.0 334.2 l0.2 3.4" fill="none" stroke="#777" stroke-width="0.50" stroke-linecap="round" stroke-linejoin="round" />
<path d="M1033.0 334.2 l0.2 3.4" fill="none" stroke="#777" stroke-width="0.50" stroke-linecap="round" stroke-linejoin="round" />
<path d="M1038.0 334.2 l0.2 3.4" fill="none" stroke="#777" stroke-width="0.50" stroke-linecap="round" stroke-linejoin="round" />
<path d="M1043.0 334.2 l0.2 3.4" fill="none" stroke="#777" stroke-width="0.50" stroke-linecap="round" stroke-linejoin="round" />
<path d="M1016 339.0 Q1031 336.4 1048 339.4" fill="none" stroke="#4a4a4a" stroke-width="0.70" stroke-linecap="round" stroke-linejoin="round" />
<path d="M1020.5 337.8 l0.2 3.4" fill="none" stroke="#777" stroke-width="0.50" stroke-linecap="round" stroke-linejoin="round" />
<path d="M1025.5 337.8 l0.2 3.4" fill="none" stroke="#777" stroke-width="0.50" stroke-linecap="round" stroke-linejoin="round" />
<path d="M1030.5 337.8 l0.2 3.4" fill="none" stroke="#777" stroke-width="0.50" stroke-linecap="round" stroke-linejoin="round" />
<path d="M1035.5 337.8 l0.2 3.4" fill="none" stroke="#777" stroke-width="0.50" stroke-linecap="round" stroke-linejoin="round" />
<path d="M1040.5 337.8 l0.2 3.4" fill="none" stroke="#777" stroke-width="0.50" stroke-linecap="round" stroke-linejoin="round" />
<path d="M1045.5 337.8 l0.2 3.4" fill="none" stroke="#777" stroke-width="0.50" stroke-linecap="round" stroke-linejoin="round" />
<path d="M1016 342.6 Q1031 340.0 1048 343.0" fill="none" stroke="#6a6a6a" stroke-width="0.55" stroke-linecap="round" stroke-linejoin="round" />
<path d="M1018.0 341.4 l0.2 3.4" fill="none" stroke="#777" stroke-width="0.50" stroke-linecap="round" stroke-linejoin="round" />
<path d="M1023.0 341.4 l0.2 3.4" fill="none" stroke="#777" stroke-width="0.50" stroke-linecap="round" stroke-linejoin="round" />
<path d="M1028.0 341.4 l0.2 3.4" fill="none" stroke="#777" stroke-width="0.50" stroke-linecap="round" stroke-linejoin="round" />
<path d="M1033.0 341.4 l0.2 3.4" fill="none" stroke="#777" stroke-width="0.50" stroke-linecap="round" stroke-linejoin="round" />
<path d="M1038.0 341.4 l0.2 3.4" fill="none" stroke="#777" stroke-width="0.50" stroke-linecap="round" stroke-linejoin="round" />
<path d="M1043.0 341.4 l0.2 3.4" fill="none" stroke="#777" stroke-width="0.50" stroke-linecap="round" stroke-linejoin="round" />
<path d="M1016 346.2 Q1031 343.6 1048 346.6" fill="none" stroke="#6a6a6a" stroke-width="0.55" stroke-linecap="round" stroke-linejoin="round" />
<path d="M1020.5 345.0 l0.2 3.4" fill="none" stroke="#777" stroke-width="0.50" stroke-linecap="round" stroke-linejoin="round" />
<path d="M1025.5 345.0 l0.2 3.4" fill="none" stroke="#777" stroke-width="0.50" stroke-linecap="round" stroke-linejoin="round" />
<path d="M1030.5 345.0 l0.2 3.4" fill="none" stroke="#777" stroke-width="0.50" stroke-linecap="round" stroke-linejoin="round" />
<path d="M1035.5 345.0 l0.2 3.4" fill="none" stroke="#777" stroke-width="0.50" stroke-linecap="round" stroke-linejoin="round" />
<path d="M1040.5 345.0 l0.2 3.4" fill="none" stroke="#777" stroke-width="0.50" stroke-linecap="round" stroke-linejoin="round" />
<path d="M1045.5 345.0 l0.2 3.4" fill="none" stroke="#777" stroke-width="0.50" stroke-linecap="round" stroke-linejoin="round" />
<path d="M1016 349.8 Q1031 347.2 1048 350.2" fill="none" stroke="#6a6a6a" stroke-width="0.55" stroke-linecap="round" stroke-linejoin="round" />
<path d="M1018.0 348.6 l0.2 3.4" fill="none" stroke="#777" stroke-width="0.50" stroke-linecap="round" stroke-linejoin="round" />
<path d="M1023.0 348.6 l0.2 3.4" fill="none" stroke="#777" stroke-width="0.50" stroke-linecap="round" stroke-linejoin="round" />
<path d="M1028.0 348.6 l0.2 3.4" fill="none" stroke="#777" stroke-width="0.50" stroke-linecap="round" stroke-linejoin="round" />
<path d="M1033.0 348.6 l0.2 3.4" fill="none" stroke="#777" stroke-width="0.50" stroke-linecap="round" stroke-linejoin="round" />
<path d="M1038.0 348.6 l0.2 3.4" fill="none" stroke="#777" stroke-width="0.50" stroke-linecap="round" stroke-linejoin="round" />
<path d="M1043.0 348.6 l0.2 3.4" fill="none" stroke="#777" stroke-width="0.50" stroke-linecap="round" stroke-linejoin="round" />
</g>
<path d="M1028 351.4 C1023 352,1019 352.4,1015.4 354.6 C1019 356,1024 354.6,1029 353" fill="none" stroke="#555" stroke-width="0.60" stroke-linecap="round" stroke-linejoin="round" />
<circle cx="1029.40" cy="368.40" r="7.00" fill="#5e5e5e" stroke="#2c2c2c" stroke-width="0.90" />
<path d="M1029 368.6 L1024 364 M1029 368.6 L1027.6 361.8 M1029 368.6 L1032 361.8 M1029 368.6 L1035.8 365.6 M1029 368.6 L1036 371.6 M1029 368.6 L1032 375 M1029 368.6 L1026 374.6 M1029 368.6 L1022.6 370" fill="none" stroke="#1e1e1e" stroke-width="0.80" stroke-linecap="round" stroke-linejoin="round" />
<path d="M1026.6 365 l1.6 2.4 M1031 364 l-.6 3 M1033.6 369 l-2.6 0 M1029.6 373 l0 -2.6 M1024.6 368.8 l2.6 0" fill="none" stroke="#c4c4c4" stroke-width="1.00" stroke-linecap="round" stroke-linejoin="round" />
<path d="M1026.8 375.2 C1028.6 379,1026.4 383,1027 387 C1027.4 390,1028 391.6,1029 392.4" fill="none" stroke="#555" stroke-width="1.20" stroke-linecap="round" stroke-linejoin="round" />
<ellipse cx="1030.20" cy="393.40" rx="2.00" ry="1.40" fill="#fff" stroke="#555" stroke-width="0.80" transform="rotate(25.0 1030.20 393.40)" />
<path d="M1023 415.6 C1022.6 408,1027 404.6,1030.6 405.2 C1035.6 406,1037.6 411,1035.6 416 C1034.6 418.6,1033.6 419.6,1033.4 421" fill="none" stroke="#333" stroke-width="5.60" stroke-linecap="round" stroke-linejoin="round" />
<path d="M1023 415.6 C1022.6 408,1027 404.6,1030.6 405.2 C1035.6 406,1037.6 411,1035.6 416 C1034.6 418.6,1033.6 419.6,1033.4 421" fill="none" stroke="#9c9c9c" stroke-width="3.80" stroke-linecap="butt" stroke-linejoin="round" stroke-dasharray="2.2 0.7" />
<circle cx="1023.40" cy="417.00" r="4.60" fill="#5a5a5a" stroke="#2b2b2b" stroke-width="0.90" />
<path d="M1019.6 415 L1027.4 415 M1019.4 418 L1027.4 418.4 M1021 420.6 L1026 420.8" fill="none" stroke="#333" stroke-width="0.60" stroke-linecap="round" stroke-linejoin="round" />
<path d="M1032 421 L1031 432 M1034.6 421 L1034 431.6" fill="none" stroke="#8a8a8a" stroke-width="0.60" stroke-linecap="butt" stroke-linejoin="round" stroke-dasharray="1.4 1"/>
<circle cx="1025.50" cy="443.60" r="3.90" fill="#0c0c0c" stroke="#000" stroke-width="0.40" />
<circle cx="1026.80" cy="448.60" r="3.10" fill="#0c0c0c" stroke="#000" stroke-width="0.40" />
<circle cx="1028.90" cy="454.00" r="4.30" fill="#0c0c0c" stroke="#000" stroke-width="0.40" />
<circle cx="1034.30" cy="454.80" r="4.60" fill="#0c0c0c" stroke="#000" stroke-width="0.40" />
<circle cx="1039.30" cy="454.60" r="4.10" fill="#0c0c0c" stroke="#000" stroke-width="0.40" />
<circle cx="1044.70" cy="452.20" r="4.60" fill="#0c0c0c" stroke="#000" stroke-width="0.40" />
<circle cx="1034.80" cy="461.00" r="5.00" fill="#0c0c0c" stroke="#000" stroke-width="0.40" />
<circle cx="1034.10" cy="467.20" r="3.40" fill="#cfcfcf" stroke="#1c1c1c" stroke-width="1.10" />
<circle cx="1025.30" cy="443.40" r="1.30" fill="#8a8a8a" stroke="none" stroke-width="0.00" />
<circle cx="1026.80" cy="448.80" r="0.90" fill="#8a8a8a" stroke="none" stroke-width="0.00" />
<circle cx="1028.80" cy="454.00" r="1.20" fill="#8a8a8a" stroke="none" stroke-width="0.00" />
<circle cx="1034.60" cy="454.80" r="1.10" fill="#8a8a8a" stroke="none" stroke-width="0.00" />
<circle cx="1039.60" cy="454.60" r="0.90" fill="#8a8a8a" stroke="none" stroke-width="0.00" />
<circle cx="1045.00" cy="452.00" r="1.40" fill="#8a8a8a" stroke="none" stroke-width="0.00" />
<circle cx="1034.80" cy="461.00" r="1.20" fill="#8a8a8a" stroke="none" stroke-width="0.00" />
<circle cx="1031.70" cy="487.80" r="9.40" fill="none" stroke="#a9a9a9" stroke-width="0.50" />
<circle cx="1031.70" cy="487.80" r="3.00" fill="none" stroke="#a9a9a9" stroke-width="0.50" />
<circle cx="1027.10" cy="484.20" r="2.60" fill="none" stroke="#a9a9a9" stroke-width="0.50" />
<circle cx="1035.30" cy="483.20" r="2.60" fill="none" stroke="#a9a9a9" stroke-width="0.50" />
<circle cx="1026.30" cy="490.40" r="2.60" fill="none" stroke="#a9a9a9" stroke-width="0.50" />
<circle cx="1036.70" cy="489.40" r="2.80" fill="none" stroke="#a9a9a9" stroke-width="0.50" />
<circle cx="1030.70" cy="493.40" r="2.60" fill="none" stroke="#a9a9a9" stroke-width="0.50" />
<circle cx="1031.70" cy="480.40" r="2.00" fill="none" stroke="#a9a9a9" stroke-width="0.50" />
<circle cx="1039.30" cy="484.80" r="1.90" fill="none" stroke="#a9a9a9" stroke-width="0.50" />
<circle cx="1024.10" cy="486.80" r="1.80" fill="none" stroke="#a9a9a9" stroke-width="0.50" />
<circle cx="1036.30" cy="493.80" r="2.00" fill="none" stroke="#a9a9a9" stroke-width="0.50" />
<circle cx="1026.70" cy="494.80" r="1.80" fill="none" stroke="#a9a9a9" stroke-width="0.50" />
<circle cx="1040.30" cy="490.40" r="1.60" fill="none" stroke="#a9a9a9" stroke-width="0.50" />
<path d="M1033.6 497 C1030 499.6,1025 502,1020.2 506 M1035 498 C1031 501,1026 503.6,1021 507.2" fill="none" stroke="#a9a9a9" stroke-width="0.50" stroke-linecap="round" stroke-linejoin="round" />
<path d="M1030 499.8 l1 1.4 M1027 501.6 l1 1.4 M1024 503.4 l1 1.4" fill="none" stroke="#a9a9a9" stroke-width="0.50" stroke-linecap="round" stroke-linejoin="round" />
<path d="M1024 545.4 C1025 538,1026 532,1025 526 M1033.6 545.4 C1032.6 538,1032 530,1032.6 522" fill="none" stroke="#4e4e4e" stroke-width="0.80" stroke-linecap="round" stroke-linejoin="round" />
<rect x="1024.40" y="533.00" width="9.00" height="12.40" fill="#7c7c7c"/>
<path d="M1022 534 C1024 528,1026 524,1027 520 M1036 534 C1034 528,1033 524,1031.6 519" fill="none" stroke="#555" stroke-width="1.10" stroke-linecap="round" stroke-linejoin="round" />
<path d="M1021 530 L1025 534 M1037 530 L1033.4 534 M1019 534.6 L1024 537 M1038.6 533 L1034 537 M1023 526 L1026 530 M1035.6 525 L1032.6 529" fill="none" stroke="#555" stroke-width="0.90" stroke-linecap="round" stroke-linejoin="round" />
<path d="M1026 545 L1026.6 531 M1028 545 L1028.4 528 M1030 545 L1030.4 530 M1032 545 L1031.8 532" fill="none" stroke="#333" stroke-width="0.70" stroke-linecap="round" stroke-linejoin="round" />
<path d="M1025.4 524 L1026.6 534 M1027.6 521 L1028.8 532 M1031.6 519.4 L1031 531 M1033.6 520.6 L1032.4 530" fill="none" stroke="#4e4e4e" stroke-width="0.90" stroke-linecap="round" stroke-linejoin="round" />
<path d="M1025 534 C1022 530,1019 528,1015 526.6 M1026 531 C1023 526,1021.6 524,1019.6 521.6 M1033 533 C1036 529,1038 527,1041 525.6 M1033 530 C1035 526,1037 523.6,1039.4 521.6 M1024.6 538 C1021 537,1019 539,1018 541.6 M1034 538 C1037 536,1040 537,1042 539.4" fill="none" stroke="#4e4e4e" stroke-width="0.80" stroke-linecap="round" stroke-linejoin="round" />
<circle cx="1013.40" cy="531.60" r="1.90" fill="#efefef" stroke="#4e4e4e" stroke-width="0.60" />
<circle cx="1015.40" cy="525.60" r="1.70" fill="#efefef" stroke="#4e4e4e" stroke-width="0.60" />
<circle cx="1018.60" cy="520.80" r="1.60" fill="#efefef" stroke="#4e4e4e" stroke-width="0.60" />
<circle cx="1022.20" cy="522.80" r="1.50" fill="#efefef" stroke="#4e4e4e" stroke-width="0.60" />
<circle cx="1016.60" cy="536.00" r="1.50" fill="#efefef" stroke="#4e4e4e" stroke-width="0.60" />
<circle cx="1014.60" cy="541.80" r="2.20" fill="#efefef" stroke="#4e4e4e" stroke-width="0.60" />
<circle cx="1017.80" cy="540.60" r="1.60" fill="#efefef" stroke="#4e4e4e" stroke-width="0.60" />
<circle cx="1036.60" cy="522.60" r="1.60" fill="#efefef" stroke="#4e4e4e" stroke-width="0.60" />
<circle cx="1040.40" cy="521.20" r="1.60" fill="#efefef" stroke="#4e4e4e" stroke-width="0.60" />
<circle cx="1042.00" cy="526.60" r="1.80" fill="#efefef" stroke="#4e4e4e" stroke-width="0.60" />
<circle cx="1043.00" cy="532.60" r="1.70" fill="#efefef" stroke="#4e4e4e" stroke-width="0.60" />
<circle cx="1040.00" cy="535.00" r="1.60" fill="#efefef" stroke="#4e4e4e" stroke-width="0.60" />
<circle cx="1043.20" cy="540.80" r="2.10" fill="#efefef" stroke="#4e4e4e" stroke-width="0.60" />
<circle cx="1038.00" cy="529.00" r="1.50" fill="#efefef" stroke="#4e4e4e" stroke-width="0.60" />
<circle cx="1020.00" cy="529.60" r="1.50" fill="#efefef" stroke="#4e4e4e" stroke-width="0.60" />
<circle cx="1036.00" cy="534.60" r="1.40" fill="#efefef" stroke="#4e4e4e" stroke-width="0.60" />
<circle cx="1021.60" cy="534.40" r="1.30" fill="#efefef" stroke="#4e4e4e" stroke-width="0.60" />
<ellipse cx="1028.80" cy="567.60" rx="11.80" ry="10.20" fill="#bdbdbd" stroke="#585858" stroke-width="0.70" />
<circle cx="1029.39" cy="574.17" r="1.75" fill="#e6e6e6" stroke="#585858" stroke-width="0.55" />
<circle cx="1023.18" cy="572.66" r="1.75" fill="#e6e6e6" stroke="#585858" stroke-width="0.55" />
<circle cx="1026.90" cy="565.98" r="1.75" fill="#e6e6e6" stroke="#585858" stroke-width="0.55" />
<circle cx="1038.43" cy="568.28" r="1.75" fill="#e6e6e6" stroke="#585858" stroke-width="0.55" />
<circle cx="1028.50" cy="571.91" r="1.75" fill="#e6e6e6" stroke="#585858" stroke-width="0.55" />
<circle cx="1036.04" cy="567.43" r="1.75" fill="#e6e6e6" stroke="#585858" stroke-width="0.55" />
<circle cx="1032.57" cy="562.32" r="1.75" fill="#e6e6e6" stroke="#585858" stroke-width="0.55" />
<circle cx="1026.17" cy="564.94" r="1.75" fill="#e6e6e6" stroke="#585858" stroke-width="0.55" />
<circle cx="1022.29" cy="561.37" r="1.75" fill="#e6e6e6" stroke="#585858" stroke-width="0.55" />
<circle cx="1019.80" cy="566.49" r="1.75" fill="#e6e6e6" stroke="#585858" stroke-width="0.55" />
<circle cx="1027.53" cy="565.61" r="1.75" fill="#e6e6e6" stroke="#585858" stroke-width="0.55" />
<circle cx="1029.22" cy="560.75" r="1.75" fill="#e6e6e6" stroke="#585858" stroke-width="0.55" />
<circle cx="1028.21" cy="569.09" r="1.75" fill="#e6e6e6" stroke="#585858" stroke-width="0.55" />
<circle cx="1033.62" cy="563.01" r="1.75" fill="#e6e6e6" stroke="#585858" stroke-width="0.55" />
<circle cx="1026.87" cy="559.39" r="1.75" fill="#e6e6e6" stroke="#585858" stroke-width="0.55" />
<circle cx="1026.53" cy="559.25" r="1.75" fill="#e6e6e6" stroke="#585858" stroke-width="0.55" />
<circle cx="1021.33" cy="572.50" r="1.75" fill="#e6e6e6" stroke="#585858" stroke-width="0.55" />
<circle cx="1019.20" cy="570.55" r="1.75" fill="#e6e6e6" stroke="#585858" stroke-width="0.55" />
<circle cx="1031.19" cy="565.68" r="1.75" fill="#e6e6e6" stroke="#585858" stroke-width="0.55" />
<circle cx="1032.03" cy="570.74" r="1.75" fill="#e6e6e6" stroke="#585858" stroke-width="0.55" />
<circle cx="1035.61" cy="566.33" r="1.75" fill="#e6e6e6" stroke="#585858" stroke-width="0.55" />
<circle cx="1024.75" cy="564.10" r="1.75" fill="#e6e6e6" stroke="#585858" stroke-width="0.55" />
<circle cx="1022.25" cy="567.35" r="1.75" fill="#e6e6e6" stroke="#585858" stroke-width="0.55" />
<circle cx="1024.02" cy="573.10" r="1.75" fill="#e6e6e6" stroke="#585858" stroke-width="0.55" />
<circle cx="1020.13" cy="563.31" r="1.75" fill="#e6e6e6" stroke="#585858" stroke-width="0.55" />
<circle cx="1024.58" cy="559.77" r="1.75" fill="#e6e6e6" stroke="#585858" stroke-width="0.55" />
<circle cx="1035.31" cy="560.62" r="1.75" fill="#e6e6e6" stroke="#585858" stroke-width="0.55" />
<circle cx="1026.77" cy="564.43" r="1.75" fill="#e6e6e6" stroke="#585858" stroke-width="0.55" />
<circle cx="1035.44" cy="560.87" r="1.75" fill="#e6e6e6" stroke="#585858" stroke-width="0.55" />
<circle cx="1035.38" cy="563.80" r="1.75" fill="#e6e6e6" stroke="#585858" stroke-width="0.55" />
<circle cx="1027.71" cy="563.60" r="1.75" fill="#e6e6e6" stroke="#585858" stroke-width="0.55" />
<circle cx="1032.72" cy="561.71" r="1.75" fill="#e6e6e6" stroke="#585858" stroke-width="0.55" />
<circle cx="1028.22" cy="569.80" r="1.75" fill="#e6e6e6" stroke="#585858" stroke-width="0.55" />
<circle cx="1035.18" cy="560.54" r="1.75" fill="#e6e6e6" stroke="#585858" stroke-width="0.55" />
<path d="M1028.4 560 L1028 578" fill="none" stroke="#444" stroke-width="0.70" stroke-linecap="round" stroke-linejoin="round" />
<path d="M1026.4 577.6 L1026.2 587 L1029.6 587 L1029.4 577.6" fill="#b5b5b5" stroke="#585858" stroke-width="0.70" stroke-linecap="round" stroke-linejoin="round" />
<path d="M1033.79 606.03L1033.48 606.48L1032.98 606.84L1032.33 607.04L1031.59 607.03L1030.86 606.79L1030.23 606.32L1029.79 605.65L1029.63 604.86L1029.78 604.02L1030.28 603.25L1031.07 602.63L1032.09 602.27L1033.25 602.22L1034.39 602.53L1035.39 603.18L1036.12 604.11L1036.46 605.25L1036.35 606.46L1035.76 607.60L1034.75 608.54L1033.39 609.15L1031.84 609.34L1030.25 609.06L1028.83 608.31L1027.73 607.16L1027.11 605.72L1027.08 604.14L1027.65 602.60L1028.80 601.28L1030.43 600.35L1032.36 599.93L1034.38 600.09L1036.28 600.85L1037.81 602.14L1038.79 603.84L1039.09 605.77L1038.63 607.72L1037.44 609.46L1035.62 610.78L1033.37 611.52L1030.91 611.57L1028.53 610.89L1026.50 609.54L1025.07 607.64L1024.42 605.40L1024.66 603.05L1025.78 600.87L1027.70 599.10L1030.22 597.97L1033.06 597.62L1035.93 598.12L1038.49 599.44L1040.43 601.45L1041.53 603.96L1041.63 606.68L1040.68 609.32L1038.77 611.57L1036.07 613.16L1032.89 613.90L1029.56 613.67" fill="none" stroke="#3a3030" stroke-width="0.75" stroke-linecap="round" stroke-linejoin="round" />
<ellipse cx="1031.40" cy="605.00" rx="2.20" ry="1.40" fill="#bbb" stroke="#3a3030" stroke-width="0.60" />
<circle cx="1034.60" cy="601.80" r="6.20" fill="none" stroke="#3a3030" stroke-width="0.60" />
<path d="M1027.4 596.8 C1022 598.6,1021.6 605,1024.6 609 C1025.6 612,1024 614.6,1021 617.4 C1019 619,1017 620.6,1017.6 622.2 C1022 622.8,1026.6 618.8,1027 613 C1027 611,1026.4 609.6,1027.6 608" fill="none" stroke="#3a3030" stroke-width="0.75" stroke-linecap="round" stroke-linejoin="round" />
<rect x="1015.20" y="632.20" width="25.90" height="33.50" fill="#d3d1d5"/>
<clipPath id="c17"><rect x="1015.2" y="632.2" width="25.9" height="33.5"/></clipPath><g clip-path="url(#c17)">
<path d="M1023.6 637 C1021.6 645,1024 652,1022.6 658.6 C1021 661.6,1018.6 663,1016.4 664.6" fill="none" stroke="#b39a86" stroke-width="1.70" stroke-linecap="round" stroke-linejoin="round" />
<path d="M1023.6 637 C1021.6 645,1024 652,1022.6 658.6 C1021 661.6,1018.6 663,1016.4 664.6" fill="none" stroke="#e4dad0" stroke-width="0.80" stroke-linecap="round" stroke-linejoin="round" />
<path d="M1028.91 640.81L1028.76 640.69L1028.63 640.52L1028.53 640.31L1028.49 640.06L1028.51 639.79L1028.59 639.52L1028.74 639.26L1028.96 639.02L1029.24 638.83L1029.57 638.70L1029.94 638.64L1030.33 638.67L1030.73 638.79L1031.11 638.99L1031.44 639.29L1031.72 639.67L1031.91 640.11L1032.01 640.61L1032.00 641.13L1031.87 641.66L1031.63 642.16L1031.27 642.62L1030.81 643.00L1030.27 643.28L1029.65 643.45L1029.00 643.48L1028.34 643.37L1027.70 643.12L1027.11 642.73L1026.60 642.20L1026.21 641.57L1025.95 640.85L1025.84 640.07L1025.91 639.27L1026.14 638.49L1026.55 637.75L1027.11 637.10L1027.81 636.58L1028.63 636.20L1029.52 636.00L1030.45 635.99L1031.39 636.18L1032.28 636.57L1033.08 637.15L1033.76 637.90L1034.27 638.79L1034.59 639.78L1034.70 640.84L1034.58 641.92L1034.24 642.97L1033.67 643.93L1032.90 644.77L1031.96 645.45L1030.88 645.91L1029.70 646.15L1028.49 646.13L1027.29 645.86L1026.15 645.33L1025.13 644.57L1024.29 643.60" fill="none" stroke="#b39a86" stroke-width="1.70" stroke-linecap="round" stroke-linejoin="round" />
<path d="M1028.91 640.81L1028.76 640.69L1028.63 640.52L1028.53 640.31L1028.49 640.06L1028.51 639.79L1028.59 639.52L1028.74 639.26L1028.96 639.02L1029.24 638.83L1029.57 638.70L1029.94 638.64L1030.33 638.67L1030.73 638.79L1031.11 638.99L1031.44 639.29L1031.72 639.67L1031.91 640.11L1032.01 640.61L1032.00 641.13L1031.87 641.66L1031.63 642.16L1031.27 642.62L1030.81 643.00L1030.27 643.28L1029.65 643.45L1029.00 643.48L1028.34 643.37L1027.70 643.12L1027.11 642.73L1026.60 642.20L1026.21 641.57L1025.95 640.85L1025.84 640.07L1025.91 639.27L1026.14 638.49L1026.55 637.75L1027.11 637.10L1027.81 636.58L1028.63 636.20L1029.52 636.00L1030.45 635.99L1031.39 636.18L1032.28 636.57L1033.08 637.15L1033.76 637.90L1034.27 638.79L1034.59 639.78L1034.70 640.84L1034.58 641.92L1034.24 642.97L1033.67 643.93L1032.90 644.77L1031.96 645.45L1030.88 645.91L1029.70 646.15L1028.49 646.13L1027.29 645.86L1026.15 645.33L1025.13 644.57L1024.29 643.60" fill="none" stroke="#e0d2c4" stroke-width="0.80" stroke-linecap="round" stroke-linejoin="round" />
<path d="M1029.91 652.81L1029.78 652.68L1029.67 652.52L1029.59 652.31L1029.57 652.08L1029.59 651.84L1029.68 651.60L1029.82 651.37L1030.02 651.17L1030.28 651.01L1030.57 650.90L1030.90 650.86L1031.24 650.89L1031.58 651.00L1031.90 651.19L1032.19 651.45L1032.42 651.77L1032.58 652.16L1032.65 652.58L1032.64 653.02L1032.52 653.47L1032.31 653.89L1032.01 654.27L1031.62 654.58L1031.16 654.82L1030.65 654.95L1030.10 654.97L1029.55 654.88L1029.02 654.66L1028.53 654.33L1028.12 653.89L1027.79 653.37L1027.58 652.77L1027.50 652.13L1027.56 651.47L1027.76 650.83L1028.09 650.22L1028.56 649.69L1029.14 649.26L1029.80 648.96L1030.54 648.80L1031.30 648.80L1032.06 648.96L1032.78 649.28L1033.44 649.75L1033.98 650.36L1034.40 651.09L1034.66 651.90L1034.74 652.76L1034.65 653.63L1034.36 654.48L1033.90 655.27L1033.27 655.94L1032.51 656.49L1031.63 656.86L1030.68 657.05L1029.70 657.03L1028.73 656.81L1027.81 656.38L1027.00 655.76L1026.32 654.98" fill="none" stroke="#b39a86" stroke-width="1.60" stroke-linecap="round" stroke-linejoin="round" />
<path d="M1029.91 652.81L1029.78 652.68L1029.67 652.52L1029.59 652.31L1029.57 652.08L1029.59 651.84L1029.68 651.60L1029.82 651.37L1030.02 651.17L1030.28 651.01L1030.57 650.90L1030.90 650.86L1031.24 650.89L1031.58 651.00L1031.90 651.19L1032.19 651.45L1032.42 651.77L1032.58 652.16L1032.65 652.58L1032.64 653.02L1032.52 653.47L1032.31 653.89L1032.01 654.27L1031.62 654.58L1031.16 654.82L1030.65 654.95L1030.10 654.97L1029.55 654.88L1029.02 654.66L1028.53 654.33L1028.12 653.89L1027.79 653.37L1027.58 652.77L1027.50 652.13L1027.56 651.47L1027.76 650.83L1028.09 650.22L1028.56 649.69L1029.14 649.26L1029.80 648.96L1030.54 648.80L1031.30 648.80L1032.06 648.96L1032.78 649.28L1033.44 649.75L1033.98 650.36L1034.40 651.09L1034.66 651.90L1034.74 652.76L1034.65 653.63L1034.36 654.48L1033.90 655.27L1033.27 655.94L1032.51 656.49L1031.63 656.86L1030.68 657.05L1029.70 657.03L1028.73 656.81L1027.81 656.38L1027.00 655.76L1026.32 654.98" fill="none" stroke="#e0d2c4" stroke-width="0.70" stroke-linecap="round" stroke-linejoin="round" />
<path d="M1035.6 642 C1037.4 647,1036.6 652,1035.6 655" fill="none" stroke="#b39a86" stroke-width="1.30" stroke-linecap="round" stroke-linejoin="round" />
<path d="M1023 659 C1027 661,1030 660.6,1033 662" fill="none" stroke="#c8b8a8" stroke-width="1.20" stroke-linecap="round" stroke-linejoin="round" />
</g>
<ellipse cx="1029.00" cy="682.00" rx="8.60" ry="8.80" fill="#d8d8d8" stroke="none" stroke-width="0.00" />
<ellipse cx="1028.40" cy="694.00" rx="9.20" ry="11.00" fill="#d2d2d2" stroke="none" stroke-width="0.00" />
<path d="M1030.70 679.71L1030.65 679.91L1030.52 680.11L1030.29 680.28L1029.98 680.40L1029.61 680.45L1029.21 680.40L1028.82 680.26L1028.47 680.01L1028.21 679.68L1028.07 679.27L1028.08 678.83L1028.25 678.39L1028.58 677.98L1029.07 677.64L1029.68 677.42L1030.37 677.33L1031.10 677.40L1031.80 677.65L1032.42 678.05L1032.89 678.59L1033.17 679.23L1033.22 679.94L1033.02 680.66L1032.57 681.32L1031.89 681.88L1031.02 682.28L1030.01 682.49L1028.94 682.46L1027.89 682.20L1026.95 681.71L1026.18 681.01L1025.67 680.15L1025.47 679.18L1025.60 678.19L1026.08 677.23L1026.88 676.40L1027.96 675.76L1029.24 675.36L1030.64 675.26L1032.05 675.46L1033.37 675.98L1034.49 676.78L1035.31 677.81L1035.77 679.00L1035.80 680.27L1035.39 681.53L1034.56 682.67L1033.36 683.61L1031.85 684.26L1030.15 684.57L1028.38 684.50L1026.67 684.04L1025.15 683.22L1023.94 682.08L1023.16 680.70L1022.86 679.18L1023.09 677.62L1023.85 676.15L1025.09 674.88L1026.75 673.91" fill="none" stroke="#1f1f1f" stroke-width="1.15" stroke-linecap="round" stroke-linejoin="round" />
<ellipse cx="1028.30" cy="684.40" rx="8.80" ry="2.90" fill="none" stroke="#1f1f1f" stroke-width="1.25" transform="rotate(-6.0 1028.30 684.40)" />
<ellipse cx="1029.10" cy="687.60" rx="9.20" ry="2.90" fill="none" stroke="#1f1f1f" stroke-width="1.25" transform="rotate(-6.0 1029.10 687.60)" />
<ellipse cx="1028.30" cy="690.80" rx="9.40" ry="2.90" fill="none" stroke="#1f1f1f" stroke-width="1.25" transform="rotate(-6.0 1028.30 690.80)" />
<ellipse cx="1029.10" cy="694.00" rx="9.40" ry="2.90" fill="none" stroke="#1f1f1f" stroke-width="1.25" transform="rotate(-6.0 1029.10 694.00)" />
<ellipse cx="1028.30" cy="697.20" rx="9.00" ry="2.90" fill="none" stroke="#1f1f1f" stroke-width="1.25" transform="rotate(-6.0 1028.30 697.20)" />
<ellipse cx="1029.10" cy="700.20" rx="8.20" ry="2.90" fill="none" stroke="#1f1f1f" stroke-width="1.25" transform="rotate(-6.0 1029.10 700.20)" />
<ellipse cx="1028.30" cy="702.80" rx="7.00" ry="2.90" fill="none" stroke="#1f1f1f" stroke-width="1.25" transform="rotate(-6.0 1028.30 702.80)" />
<path d="M1022 703.6 Q1028 707.6 1034.6 703.2" fill="none" stroke="#1f1f1f" stroke-width="1.10" stroke-linecap="round" stroke-linejoin="round" />
<circle cx="1030.50" cy="725.90" r="12.20" fill="#b9b9b9" stroke="#5a5a5a" stroke-width="0.90" />
<clipPath id="c19"><circle cx="1030.5" cy="725.9" r="12.2"/></clipPath><g clip-path="url(#c19)">
<path d="M1026 727.6 L1018 722 L1018 740 Z" fill="#9d9d9d" stroke="none" stroke-width="0.00" stroke-linecap="round" stroke-linejoin="round" />
<path d="M1026 727.6 L1022 712 L1031 712 Z" fill="#a4a4a4" stroke="none" stroke-width="0.00" stroke-linecap="round" stroke-linejoin="round" />
<path d="M1026 727.6 L1024 712 M1026 727.6 L1032 716 L1040 713 M1026 727.6 L1018 725.6 M1026 727.6 L1020 735 M1026 727.6 L1027 739 M1026 727.6 C1032 733,1038 733,1043 730 M1026 727.6 L1023.6 737.6 M1032 716 C1029 719,1027 722,1026 727.6 M1019 721 L1026 727.6" fill="none" stroke="#4e4e4e" stroke-width="0.85" stroke-linecap="round" stroke-linejoin="round" />
</g>
<path d="M1028 737.6 L1028 739.4 M1030 737.8 L1029.8 739.4" fill="none" stroke="#777" stroke-width="0.60" stroke-linecap="round" stroke-linejoin="round" />
<ellipse cx="1028.60" cy="741.00" rx="3.60" ry="2.10" fill="#e4e4e4" stroke="#8a8a8a" stroke-width="0.70" />
<ellipse cx="1020.60" cy="750.40" rx="2.80" ry="2.10" fill="#fff" stroke="#6e6e6e" stroke-width="0.65" transform="rotate(-20.0 1020.60 750.40)" />
<ellipse cx="1031.40" cy="753.60" rx="3.00" ry="2.20" fill="#fff" stroke="#6e6e6e" stroke-width="0.65" transform="rotate(-15.0 1031.40 753.60)" />
<ellipse cx="1037.60" cy="752.60" rx="3.00" ry="2.20" fill="#fff" stroke="#6e6e6e" stroke-width="0.65" transform="rotate(10.0 1037.60 752.60)" />
<ellipse cx="1018.60" cy="761.00" rx="3.40" ry="6.20" fill="#fff" stroke="#6e6e6e" stroke-width="0.65" transform="rotate(10.0 1018.60 761.00)" />
<ellipse cx="1023.60" cy="759.60" rx="3.60" ry="5.60" fill="#fff" stroke="#6e6e6e" stroke-width="0.65" transform="rotate(20.0 1023.60 759.60)" />
<ellipse cx="1027.60" cy="760.60" rx="2.80" ry="5.80" fill="#fff" stroke="#6e6e6e" stroke-width="0.65" transform="rotate(15.0 1027.60 760.60)" />
<ellipse cx="1036.60" cy="759.60" rx="3.60" ry="2.80" fill="#fff" stroke="#6e6e6e" stroke-width="0.65" />
<ellipse cx="1042.40" cy="758.60" rx="2.60" ry="4.60" fill="#fff" stroke="#6e6e6e" stroke-width="0.65" transform="rotate(10.0 1042.40 758.60)" />
<ellipse cx="1021.00" cy="766.40" rx="2.60" ry="2.20" fill="#fff" stroke="#6e6e6e" stroke-width="0.65" />
<ellipse cx="1027.00" cy="769.00" rx="3.20" ry="2.60" fill="#fff" stroke="#6e6e6e" stroke-width="0.65" transform="rotate(20.0 1027.00 769.00)" />
<ellipse cx="1033.60" cy="768.00" rx="3.00" ry="2.60" fill="#fff" stroke="#6e6e6e" stroke-width="0.65" transform="rotate(-30.0 1033.60 768.00)" />
<ellipse cx="1038.00" cy="764.60" rx="3.20" ry="2.40" fill="#fff" stroke="#6e6e6e" stroke-width="0.65" transform="rotate(-30.0 1038.00 764.60)" />
<ellipse cx="1031.00" cy="762.00" rx="1.60" ry="2.80" fill="#fff" stroke="#6e6e6e" stroke-width="0.65" />
<path d="M1031.6 771 C1031 774,1032.6 776,1032 778.4" fill="none" stroke="#aaa" stroke-width="0.60" stroke-linecap="round" stroke-linejoin="round" />
<circle cx="1029.60" cy="793.60" r="9.20" fill="none" stroke="#c6c6c6" stroke-width="0.50" />
<circle cx="1024.31" cy="795.23" r="2.20" fill="none" stroke="#bdbdbd" stroke-width="0.45" />
<circle cx="1034.09" cy="791.28" r="2.20" fill="none" stroke="#bdbdbd" stroke-width="0.45" />
<circle cx="1023.94" cy="793.32" r="2.20" fill="none" stroke="#bdbdbd" stroke-width="0.45" />
<circle cx="1031.71" cy="798.45" r="2.20" fill="none" stroke="#bdbdbd" stroke-width="0.45" />
<circle cx="1025.08" cy="788.80" r="2.20" fill="none" stroke="#bdbdbd" stroke-width="0.45" />
<circle cx="1032.98" cy="795.87" r="2.20" fill="none" stroke="#bdbdbd" stroke-width="0.45" />
<circle cx="1035.21" cy="797.19" r="2.20" fill="none" stroke="#bdbdbd" stroke-width="0.45" />
<circle cx="1029.07" cy="792.18" r="2.20" fill="none" stroke="#bdbdbd" stroke-width="0.45" />
<circle cx="1036.82" cy="792.79" r="2.20" fill="none" stroke="#bdbdbd" stroke-width="0.45" />
<circle cx="1026.30" cy="788.82" r="2.20" fill="none" stroke="#bdbdbd" stroke-width="0.45" />
<circle cx="1030.10" cy="794.36" r="2.20" fill="none" stroke="#bdbdbd" stroke-width="0.45" />
<circle cx="1027.82" cy="793.28" r="2.20" fill="none" stroke="#bdbdbd" stroke-width="0.45" />
<circle cx="1030.94" cy="796.99" r="2.20" fill="none" stroke="#bdbdbd" stroke-width="0.45" />
<circle cx="1034.55" cy="794.55" r="2.20" fill="none" stroke="#bdbdbd" stroke-width="0.45" />
<circle cx="1023.28" cy="796.08" r="2.20" fill="none" stroke="#bdbdbd" stroke-width="0.45" />
<circle cx="1023.72" cy="792.89" r="2.20" fill="none" stroke="#bdbdbd" stroke-width="0.45" />
<ellipse cx="1030.80" cy="794.00" rx="1.20" ry="2.20" fill="#bbb" stroke="none" stroke-width="0.00" transform="rotate(20.0 1030.80 794.00)" />
<path d="M1029.6 802.8 C1030 806,1032 808,1033 811 C1034 814,1031 817,1030.4 820 M1031.6 803 C1032.6 806,1037 805.6,1038.4 808 M1034 812 C1037 811,1038.6 813,1039 815 M1029.4 814 L1028.4 820" fill="none" stroke="#bdbdbd" stroke-width="0.50" stroke-linecap="round" stroke-linejoin="round" />
<ellipse cx="1021.00" cy="878.20" rx="6.00" ry="3.00" fill="#ececec" stroke="#4a4a4a" stroke-width="0.70" transform="rotate(22.0 1021.00 878.20)" />
<g transform="rotate(22.0 1021.00 878.20)">
<path d="M1015.6 878.2 L1026.4 878.2" fill="none" stroke="#4a4a4a" stroke-width="0.55" stroke-linecap="round" stroke-linejoin="round" />
<path d="M1017.0 876.2 L1017.8 880.2" fill="none" stroke="#6a6a6a" stroke-width="0.45" stroke-linecap="round" stroke-linejoin="round" />
<path d="M1019.0 875.7 L1019.8 880.7" fill="none" stroke="#6a6a6a" stroke-width="0.45" stroke-linecap="round" stroke-linejoin="round" />
<path d="M1021.0 875.5 L1021.8 880.9" fill="none" stroke="#6a6a6a" stroke-width="0.45" stroke-linecap="round" stroke-linejoin="round" />
<path d="M1023.0 875.7 L1023.8 880.7" fill="none" stroke="#6a6a6a" stroke-width="0.45" stroke-linecap="round" stroke-linejoin="round" />
<path d="M1025.0 876.2 L1025.8 880.2" fill="none" stroke="#6a6a6a" stroke-width="0.45" stroke-linecap="round" stroke-linejoin="round" />
</g>
<ellipse cx="1036.40" cy="875.00" rx="6.60" ry="3.30" fill="#ececec" stroke="#4a4a4a" stroke-width="0.70" transform="rotate(-28.0 1036.40 875.00)" />
<g transform="rotate(-28.0 1036.40 875.00)">
<path d="M1030.4 875.0 L1042.4 875.0" fill="none" stroke="#4a4a4a" stroke-width="0.55" stroke-linecap="round" stroke-linejoin="round" />
<path d="M1032.4 872.6 L1033.2 877.4" fill="none" stroke="#6a6a6a" stroke-width="0.45" stroke-linecap="round" stroke-linejoin="round" />
<path d="M1034.4 872.2 L1035.2 877.8" fill="none" stroke="#6a6a6a" stroke-width="0.45" stroke-linecap="round" stroke-linejoin="round" />
<path d="M1036.4 872.0 L1037.2 878.0" fill="none" stroke="#6a6a6a" stroke-width="0.45" stroke-linecap="round" stroke-linejoin="round" />
<path d="M1038.4 872.2 L1039.2 877.8" fill="none" stroke="#6a6a6a" stroke-width="0.45" stroke-linecap="round" stroke-linejoin="round" />
<path d="M1040.4 872.6 L1041.2 877.4" fill="none" stroke="#6a6a6a" stroke-width="0.45" stroke-linecap="round" stroke-linejoin="round" />
</g>
<ellipse cx="1037.60" cy="886.20" rx="6.00" ry="3.30" fill="#ececec" stroke="#4a4a4a" stroke-width="0.70" transform="rotate(28.0 1037.60 886.20)" />
<g transform="rotate(28.0 1037.60 886.20)">
<path d="M1032.2 886.2 L1043.0 886.2" fill="none" stroke="#4a4a4a" stroke-width="0.55" stroke-linecap="round" stroke-linejoin="round" />
<path d="M1033.6 884.0 L1034.4 888.4" fill="none" stroke="#6a6a6a" stroke-width="0.45" stroke-linecap="round" stroke-linejoin="round" />
<path d="M1035.6 883.4 L1036.4 889.0" fill="none" stroke="#6a6a6a" stroke-width="0.45" stroke-linecap="round" stroke-linejoin="round" />
<path d="M1037.6 883.2 L1038.4 889.2" fill="none" stroke="#6a6a6a" stroke-width="0.45" stroke-linecap="round" stroke-linejoin="round" />
<path d="M1039.6 883.4 L1040.4 889.0" fill="none" stroke="#6a6a6a" stroke-width="0.45" stroke-linecap="round" stroke-linejoin="round" />
<path d="M1041.6 884.0 L1042.4 888.4" fill="none" stroke="#6a6a6a" stroke-width="0.45" stroke-linecap="round" stroke-linejoin="round" />
</g>
<path d="M1025.6 880.6 C1028 882,1029 884,1029.4 887 M1032 879 C1030.6 882,1030.4 884,1030.6 887 M1033.6 884 C1032 885,1031 886,1030.8 888" fill="none" stroke="#4a4a4a" stroke-width="0.60" stroke-linecap="round" stroke-linejoin="round" />
<path d="M1029 887 L1028.8 892.4 M1030.8 887 L1030.6 892.4 M1023.2 894 L1028.6 892.4 L1035.4 893.8 M1025 895 L1029.6 893" fill="none" stroke="#6a6a6a" stroke-width="0.60" stroke-linecap="round" stroke-linejoin="round" />
<path d="M1027.6 904 C1024.6 905,1024.4 909,1027 910.4 M1027.6 904 C1030 904.6,1030.6 907,1029.6 908.6 M1027.6 910 C1028 913,1029 914,1030 914.6" fill="none" stroke="#888" stroke-width="0.55" stroke-linecap="round" stroke-linejoin="round" />
<circle cx="1031.20" cy="916.60" r="3.20" fill="#fff" stroke="#5c5c5c" stroke-width="0.90" />
<circle cx="1031.20" cy="916.60" r="1.50" fill="none" stroke="#777" stroke-width="0.50" />
<circle cx="1028.50" cy="926.30" r="4.30" fill="#fff" stroke="#5c5c5c" stroke-width="1.00" />
<circle cx="1028.50" cy="926.30" r="2.10" fill="none" stroke="#777" stroke-width="0.50" />
<circle cx="1022.80" cy="933.20" r="3.80" fill="#fff" stroke="#5c5c5c" stroke-width="1.00" />
<circle cx="1022.80" cy="933.20" r="1.80" fill="none" stroke="#777" stroke-width="0.50" />
<path d="M1033.6 919 C1034.6 922,1033 924,1031.6 923.6 M1028 920.6 L1029.6 922.2" fill="none" stroke="#5c5c5c" stroke-width="0.60" stroke-linecap="round" stroke-linejoin="round" />
<path d="M1028.4 931 L1028.6 937 M1027 934.6 L1030.6 935.2" fill="none" stroke="#8a8a8a" stroke-width="0.50" stroke-linecap="round" stroke-linejoin="round" />
<ellipse cx="1019.20" cy="948.60" rx="3.63" ry="1.70" fill="#fff" stroke="#555" stroke-width="0.60" transform="rotate(-14.0 1019.20 948.60)" />
<ellipse cx="1019.20" cy="951.50" rx="4.22" ry="1.70" fill="#fff" stroke="#555" stroke-width="0.60" transform="rotate(-14.0 1019.20 951.50)" />
<ellipse cx="1019.20" cy="954.40" rx="4.72" ry="1.70" fill="#fff" stroke="#555" stroke-width="0.60" transform="rotate(-14.0 1019.20 954.40)" />
<ellipse cx="1019.00" cy="957.30" rx="5.10" ry="1.70" fill="#fff" stroke="#555" stroke-width="0.60" transform="rotate(-14.0 1019.00 957.30)" />
<ellipse cx="1018.80" cy="960.20" rx="5.33" ry="1.70" fill="#fff" stroke="#555" stroke-width="0.60" transform="rotate(-14.0 1018.80 960.20)" />
<ellipse cx="1018.60" cy="963.10" rx="5.40" ry="1.70" fill="#fff" stroke="#555" stroke-width="0.60" transform="rotate(-14.0 1018.60 963.10)" />
<ellipse cx="1018.40" cy="966.00" rx="5.40" ry="1.70" fill="#fff" stroke="#555" stroke-width="0.60" transform="rotate(-14.0 1018.40 966.00)" />
<ellipse cx="1018.20" cy="968.90" rx="5.40" ry="1.70" fill="#fff" stroke="#555" stroke-width="0.60" transform="rotate(-14.0 1018.20 968.90)" />
<path d="M1019.00 969.00L1019.02 969.07L1019.03 969.15L1019.03 969.24L1019.01 969.32L1018.97 969.41L1018.91 969.49L1018.84 969.56L1018.75 969.62L1018.64 969.67L1018.53 969.70L1018.40 969.70L1018.28 969.69L1018.15 969.65L1018.03 969.59L1017.91 969.50L1017.81 969.39L1017.73 969.26L1017.67 969.12L1017.63 968.96L1017.62 968.79L1017.64 968.62L1017.69 968.45L1017.77 968.29L1017.89 968.14L1018.02 968.00L1018.19 967.89L1018.37 967.81L1018.57 967.76L1018.79 967.74L1019.00 967.76L1019.22 967.82L1019.42 967.92L1019.61 968.05L1019.78 968.21L1019.92 968.41L1020.03 968.63L1020.10 968.87L1020.13 969.13L1020.12 969.39L1020.06 969.65L1019.96 969.90L1019.81 970.14L1019.62 970.35L1019.40 970.52L1019.14 970.66L1018.86 970.76L1018.56 970.81L1018.26 970.81L1017.95 970.75L1017.65 970.65L1017.37 970.49L1017.12 970.28L1016.90 970.03L1016.72 969.74L1016.59 969.43L1016.52 969.09L1016.51 968.74L1016.55 968.38L1016.66 968.04L1016.82 967.71" fill="none" stroke="#555" stroke-width="0.50" stroke-linecap="round" stroke-linejoin="round" />
<path d="M1022.6 946.6 C1025 946,1027 948,1028.6 951" fill="none" stroke="#555" stroke-width="0.60" stroke-linecap="round" stroke-linejoin="round" />
<ellipse cx="1036.60" cy="944.40" rx="3.40" ry="1.50" fill="#fff" stroke="#555" stroke-width="0.60" transform="rotate(-20.0 1036.60 944.40)" />
<ellipse cx="1036.10" cy="946.80" rx="3.40" ry="1.50" fill="#fff" stroke="#555" stroke-width="0.60" transform="rotate(-20.0 1036.10 946.80)" />
<ellipse cx="1035.60" cy="949.20" rx="3.40" ry="1.50" fill="#fff" stroke="#555" stroke-width="0.60" transform="rotate(-20.0 1035.60 949.20)" />
<ellipse cx="1035.10" cy="951.60" rx="3.40" ry="1.50" fill="#fff" stroke="#555" stroke-width="0.60" transform="rotate(-20.0 1035.10 951.60)" />
<ellipse cx="1034.60" cy="954.00" rx="3.40" ry="1.50" fill="#fff" stroke="#555" stroke-width="0.60" transform="rotate(-20.0 1034.60 954.00)" />
<ellipse cx="1033.60" cy="957.00" rx="5.60" ry="1.70" fill="#fff" stroke="#555" stroke-width="0.65" transform="rotate(-14.0 1033.60 957.00)" />
<ellipse cx="1033.32" cy="959.60" rx="6.12" ry="1.70" fill="#fff" stroke="#555" stroke-width="0.65" transform="rotate(-14.0 1033.32 959.60)" />
<ellipse cx="1033.04" cy="962.20" rx="6.54" ry="1.70" fill="#fff" stroke="#555" stroke-width="0.65" transform="rotate(-14.0 1033.04 962.20)" />
<ellipse cx="1032.76" cy="964.80" rx="6.77" ry="1.70" fill="#fff" stroke="#555" stroke-width="0.65" transform="rotate(-14.0 1032.76 964.80)" />
<ellipse cx="1032.48" cy="967.40" rx="6.77" ry="1.70" fill="#fff" stroke="#555" stroke-width="0.65" transform="rotate(-14.0 1032.48 967.40)" />
<ellipse cx="1032.20" cy="970.00" rx="6.54" ry="1.70" fill="#fff" stroke="#555" stroke-width="0.65" transform="rotate(-14.0 1032.20 970.00)" />
<ellipse cx="1031.92" cy="972.60" rx="6.12" ry="1.70" fill="#fff" stroke="#555" stroke-width="0.65" transform="rotate(-14.0 1031.92 972.60)" />
<ellipse cx="1031.64" cy="975.20" rx="5.60" ry="1.70" fill="#fff" stroke="#555" stroke-width="0.65" transform="rotate(-14.0 1031.64 975.20)" />
<rect x="1016.20" y="981.10" width="26.40" height="31.20" fill="#bcbec4"/>
<path d="M1030.86 1000.55L1030.55 1000.86L1030.13 1001.08L1029.63 1001.20L1029.09 1001.17L1028.53 1000.99L1028.02 1000.66L1027.58 1000.17L1027.28 999.56L1027.13 998.85L1027.17 998.10L1027.42 997.35L1027.87 996.65L1028.51 996.07L1029.31 995.66L1030.22 995.46L1031.18 995.49L1032.14 995.78L1033.03 996.32L1033.78 997.10L1034.32 998.07L1034.61 999.18L1034.61 1000.36L1034.30 1001.54L1033.69 1002.63L1032.80 1003.56L1031.67 1004.26L1030.37 1004.66L1028.98 1004.72L1027.58 1004.42L1026.26 1003.77L1025.13 1002.78L1024.26 1001.51L1023.72 1000.03L1023.57 998.42L1023.84 996.80L1024.51 995.26L1025.57 993.90L1026.97 992.84L1028.62 992.14L1030.42 991.88L1032.27 992.08L1034.05 992.74L1035.63 993.86L1036.91 995.35L1037.79 997.16L1038.19 999.16L1038.09 1001.23L1037.45 1003.25L1036.32 1005.07L1034.74 1006.58L1032.80 1007.66L1030.62 1008.23L1028.32 1008.24L1026.07 1007.67L1023.99 1006.54L1022.24 1004.90L1020.94 1002.84L1020.17 1000.49L1020.02 997.99L1020.50 995.50" fill="none" stroke="#9a9aa6" stroke-width="3.70" stroke-linecap="round" stroke-linejoin="round" />
<path d="M1030.86 1000.55L1030.55 1000.86L1030.13 1001.08L1029.63 1001.20L1029.09 1001.17L1028.53 1000.99L1028.02 1000.66L1027.58 1000.17L1027.28 999.56L1027.13 998.85L1027.17 998.10L1027.42 997.35L1027.87 996.65L1028.51 996.07L1029.31 995.66L1030.22 995.46L1031.18 995.49L1032.14 995.78L1033.03 996.32L1033.78 997.10L1034.32 998.07L1034.61 999.18L1034.61 1000.36L1034.30 1001.54L1033.69 1002.63L1032.80 1003.56L1031.67 1004.26L1030.37 1004.66L1028.98 1004.72L1027.58 1004.42L1026.26 1003.77L1025.13 1002.78L1024.26 1001.51L1023.72 1000.03L1023.57 998.42L1023.84 996.80L1024.51 995.26L1025.57 993.90L1026.97 992.84L1028.62 992.14L1030.42 991.88L1032.27 992.08L1034.05 992.74L1035.63 993.86L1036.91 995.35L1037.79 997.16L1038.19 999.16L1038.09 1001.23L1037.45 1003.25L1036.32 1005.07L1034.74 1006.58L1032.80 1007.66L1030.62 1008.23L1028.32 1008.24L1026.07 1007.67L1023.99 1006.54L1022.24 1004.90L1020.94 1002.84L1020.17 1000.49L1020.02 997.99L1020.50 995.50" fill="none" stroke="#dbe3eb" stroke-width="2.80" stroke-linecap="round" stroke-linejoin="round" />
<path d="M1031.16 1000.85L1030.85 1001.16L1030.43 1001.38L1029.93 1001.50L1029.39 1001.47L1028.83 1001.29L1028.32 1000.96L1027.88 1000.47L1027.58 999.86L1027.43 999.15L1027.47 998.40L1027.72 997.65L1028.17 996.95L1028.81 996.37L1029.61 995.96L1030.52 995.76L1031.48 995.79L1032.44 996.08L1033.33 996.62L1034.08 997.40L1034.62 998.37L1034.91 999.48L1034.91 1000.66L1034.60 1001.84L1033.99 1002.93L1033.10 1003.86L1031.97 1004.56L1030.67 1004.96L1029.28 1005.02L1027.88 1004.72L1026.56 1004.07L1025.43 1003.08L1024.56 1001.81L1024.02 1000.33L1023.87 998.72L1024.14 997.10L1024.81 995.56L1025.87 994.20L1027.27 993.14L1028.92 992.44L1030.72 992.18L1032.57 992.38L1034.35 993.04L1035.93 994.16L1037.21 995.65L1038.09 997.46L1038.49 999.46L1038.39 1001.53L1037.75 1003.55L1036.62 1005.37L1035.04 1006.88L1033.10 1007.96L1030.92 1008.53L1028.62 1008.54L1026.37 1007.97L1024.29 1006.84L1022.54 1005.20L1021.24 1003.14L1020.47 1000.79L1020.32 998.29L1020.80 995.80" fill="none" stroke="#a898a8" stroke-width="0.40" stroke-linecap="round" stroke-linejoin="round" />
<rect x="1018.00" y="1099.30" width="21.70" height="34.40" fill="#d0d2d6"/>
<path d="M1024.6 1117.6 L1024.6 1133 M1026.2 1118.6 L1026.2 1133 M1028.4 1119 L1028.2 1130" fill="none" stroke="#babcc2" stroke-width="0.60" stroke-linecap="round" stroke-linejoin="round" />
<path d="M1032.13 1110.08L1032.07 1110.52L1031.94 1110.96L1031.75 1111.39L1031.51 1111.79L1031.21 1112.17L1030.86 1112.50L1030.46 1112.79L1030.02 1113.03L1029.54 1113.21L1029.04 1113.33L1028.52 1113.38L1028.00 1113.36L1027.47 1113.27L1026.95 1113.11L1026.45 1112.88L1025.98 1112.59L1025.55 1112.23L1025.17 1111.81L1024.83 1111.34L1024.57 1110.82L1024.36 1110.27L1024.24 1109.68L1024.18 1109.08L1024.21 1108.47L1024.32 1107.86L1024.51 1107.27L1024.79 1106.70L1025.13 1106.16L1025.55 1105.67L1026.04 1105.23L1026.58 1104.86L1027.18 1104.56L1027.81 1104.34L1028.48 1104.20L1029.16 1104.15L1029.86 1104.19L1030.55 1104.32L1031.22 1104.54L1031.86 1104.85L1032.46 1105.25L1033.01 1105.73L1033.50 1106.28L1033.92 1106.90L1034.25 1107.57L1034.49 1108.29L1034.64 1109.04L1034.69 1109.81L1034.64 1110.58L1034.49 1111.35L1034.23 1112.10L1033.88 1112.82L1033.43 1113.49L1032.89 1114.10L1032.27 1114.63L1031.58 1115.09L1030.83 1115.46L1030.03 1115.72L1029.20 1115.88L1028.35 1115.93L1027.49 1115.87" fill="none" stroke="#3e3e3e" stroke-width="6.20" stroke-linecap="round" stroke-linejoin="round" />
<path d="M1032.13 1110.08L1032.07 1110.52L1031.94 1110.96L1031.75 1111.39L1031.51 1111.79L1031.21 1112.17L1030.86 1112.50L1030.46 1112.79L1030.02 1113.03L1029.54 1113.21L1029.04 1113.33L1028.52 1113.38L1028.00 1113.36L1027.47 1113.27L1026.95 1113.11L1026.45 1112.88L1025.98 1112.59L1025.55 1112.23L1025.17 1111.81L1024.83 1111.34L1024.57 1110.82L1024.36 1110.27L1024.24 1109.68L1024.18 1109.08L1024.21 1108.47L1024.32 1107.86L1024.51 1107.27L1024.79 1106.70L1025.13 1106.16L1025.55 1105.67L1026.04 1105.23L1026.58 1104.86L1027.18 1104.56L1027.81 1104.34L1028.48 1104.20L1029.16 1104.15L1029.86 1104.19L1030.55 1104.32L1031.22 1104.54L1031.86 1104.85L1032.46 1105.25L1033.01 1105.73L1033.50 1106.28L1033.92 1106.90L1034.25 1107.57L1034.49 1108.29L1034.64 1109.04L1034.69 1109.81L1034.64 1110.58L1034.49 1111.35L1034.23 1112.10L1033.88 1112.82L1033.43 1113.49L1032.89 1114.10L1032.27 1114.63L1031.58 1115.09L1030.83 1115.46L1030.03 1115.72L1029.20 1115.88L1028.35 1115.93L1027.49 1115.87" fill="none" stroke="#9b9a92" stroke-width="4.60" stroke-linecap="butt" stroke-linejoin="round" stroke-dasharray="2.2 0.55" />
<ellipse cx="1029.40" cy="1107.20" rx="2.80" ry="1.20" fill="#eef0f2" stroke="#444" stroke-width="0.50" transform="rotate(25.0 1029.40 1107.20)" />
<ellipse cx="1026.60" cy="1153.20" rx="6.60" ry="12.20" fill="#e9e9e9" stroke="#484848" stroke-width="0.80" transform="rotate(-6.0 1026.60 1153.20)" />
<clipPath id="c27"><ellipse cx="1026.6" cy="1153.2" rx="6.6" ry="12.2" transform="rotate(-6 1026.6 1153.2)"/></clipPath><g clip-path="url(#c27)">
<path d="M1018 1144.8 Q1027 1148.0 1036 1144.6" fill="none" stroke="#484848" stroke-width="0.85" stroke-linecap="round" stroke-linejoin="round" />
<path d="M1018 1148.0 Q1027 1151.2 1036 1147.8" fill="none" stroke="#484848" stroke-width="0.85" stroke-linecap="round" stroke-linejoin="round" />
<path d="M1018 1151.2 Q1027 1154.4 1036 1151.0" fill="none" stroke="#484848" stroke-width="0.85" stroke-linecap="round" stroke-linejoin="round" />
<path d="M1018 1154.4 Q1027 1157.6 1036 1154.2" fill="none" stroke="#484848" stroke-width="0.85" stroke-linecap="round" stroke-linejoin="round" />
<path d="M1018 1157.6 Q1027 1160.8 1036 1157.4" fill="none" stroke="#484848" stroke-width="0.85" stroke-linecap="round" stroke-linejoin="round" />
<path d="M1018 1160.6 Q1027 1163.8 1036 1160.4" fill="none" stroke="#484848" stroke-width="0.85" stroke-linecap="round" stroke-linejoin="round" />
<ellipse cx="1026.00" cy="1143.40" rx="3.20" ry="1.70" fill="#aaa" stroke="none" stroke-width="0.00" />
</g>
<path d="M1028.6 1164.8 C1031 1166,1033 1167.6,1035.4 1169.2" fill="none" stroke="#555" stroke-width="1.50" stroke-linecap="round" stroke-linejoin="round" />
<path d="M1028.8 1164.9 C1031 1166,1033 1167.6,1035.2 1169.1" fill="none" stroke="#ddd" stroke-width="0.50" stroke-linecap="round" stroke-linejoin="round" />
<ellipse cx="1025.40" cy="1181.00" rx="3.60" ry="3.00" fill="#f1f1f1" stroke="#2e2e2e" stroke-width="0.95" transform="rotate(-30.0 1025.40 1181.00)" />
<ellipse cx="1030.60" cy="1179.40" rx="3.40" ry="2.60" fill="#f1f1f1" stroke="#2e2e2e" stroke-width="0.95" transform="rotate(10.0 1030.60 1179.40)" />
<ellipse cx="1033.80" cy="1184.60" rx="3.80" ry="3.20" fill="#f1f1f1" stroke="#2e2e2e" stroke-width="0.95" />
<ellipse cx="1037.60" cy="1190.60" rx="3.40" ry="3.80" fill="#f1f1f1" stroke="#2e2e2e" stroke-width="0.95" />
<ellipse cx="1034.80" cy="1196.80" rx="3.60" ry="3.00" fill="#f1f1f1" stroke="#2e2e2e" stroke-width="0.95" transform="rotate(-20.0 1034.80 1196.80)" />
<ellipse cx="1029.60" cy="1195.00" rx="3.20" ry="2.80" fill="#f1f1f1" stroke="#2e2e2e" stroke-width="0.95" />
<ellipse cx="1023.80" cy="1188.00" rx="3.20" ry="3.80" fill="#f1f1f1" stroke="#2e2e2e" stroke-width="0.95" transform="rotate(20.0 1023.80 1188.00)" />
<ellipse cx="1021.40" cy="1194.00" rx="3.00" ry="3.60" fill="#f1f1f1" stroke="#2e2e2e" stroke-width="0.95" />
<ellipse cx="1024.40" cy="1200.60" rx="3.20" ry="3.60" fill="#f1f1f1" stroke="#2e2e2e" stroke-width="0.95" transform="rotate(-35.0 1024.40 1200.60)" />
<ellipse cx="1029.80" cy="1188.60" rx="2.60" ry="3.00" fill="#f1f1f1" stroke="#2e2e2e" stroke-width="0.95" />
<path d="M1021.4 1270 L1015.8 1257.6 M1022.8 1269.4 L1017.2 1257.2 M1021.4 1270 L1018.6 1284.4 M1023 1270.6 L1020.2 1284.6 M1022 1269 L1046.4 1268.4 M1022 1270.8 L1038 1270.4 M1027.4 1274.8 L1035 1274.4 M1027 1274.8 L1027 1283 M1029 1274.8 L1029 1283 M1023.6 1284.4 L1035.2 1284.4 M1024 1286 L1034 1286" fill="none" stroke="#8d8d8d" stroke-width="0.55" stroke-linecap="round" stroke-linejoin="round" />
<path d="M1016.8 1260 l1.6 -0.6 M1018 1263 l1.6 -0.6 M1019.6 1266 l1.6 -0.6 M1020.4 1275 l1.8 .3 M1019.8 1279 l1.8 .3 M1027 1268.6 l0 2 M1032 1268.6 l0 2 M1037 1268.6 l0 2" fill="none" stroke="#8d8d8d" stroke-width="0.50" stroke-linecap="round" stroke-linejoin="round" />
<path d="M1019.4 1356.6 C1014 1346,1020 1338.6,1028.6 1338.8 C1037 1339,1043 1346,1039.6 1355.6" fill="none" stroke="#4a4a4a" stroke-width="6.00" stroke-linecap="round" stroke-linejoin="round" />
<path d="M1019.4 1356.6 C1014 1346,1020 1338.6,1028.6 1338.8 C1037 1339,1043 1346,1039.6 1355.6" fill="none" stroke="#9a9a9a" stroke-width="4.40" stroke-linecap="round" stroke-linejoin="round" />
<circle cx="1020.80" cy="1344.20" r="2.00" fill="#fdfdfd" stroke="none" stroke-width="0.00" />
<circle cx="1025.40" cy="1340.80" r="1.80" fill="#fdfdfd" stroke="none" stroke-width="0.00" />
<circle cx="1034.80" cy="1342.60" r="2.10" fill="#fdfdfd" stroke="none" stroke-width="0.00" />
<circle cx="1018.80" cy="1350.40" r="1.70" fill="#fdfdfd" stroke="none" stroke-width="0.00" />
<circle cx="1038.00" cy="1351.20" r="2.30" fill="#fdfdfd" stroke="none" stroke-width="0.00" />
<circle cx="1019.80" cy="1356.40" r="1.80" fill="#fdfdfd" stroke="none" stroke-width="0.00" />
<circle cx="1030.00" cy="1339.60" r="1.20" fill="#fdfdfd" stroke="none" stroke-width="0.00" />
<circle cx="1039.80" cy="1355.60" r="1.30" fill="#fdfdfd" stroke="none" stroke-width="0.00" />
<path d="M1024.6 1406 C1024.6 1398,1024 1392,1023.6 1386 C1019.4 1381,1021 1372.4,1027.6 1371.2 C1032.6 1370.6,1035.4 1374.6,1033.8 1378 C1032.6 1380.4,1029.4 1380.2,1028.6 1377.6 C1026 1378.6,1025.6 1383,1025.4 1386 C1025.8 1393,1026.6 1399,1026.6 1405" fill="none" stroke="#454545" stroke-width="0.80" stroke-linecap="round" stroke-linejoin="round" />
<path d="M1031 1399.4 C1029 1394,1030.6 1387.6,1035.6 1386.4 C1040 1385.6,1042.8 1389,1041.6 1392.6 C1040.4 1395.6,1036.4 1395.4,1036.4 1392.4 C1034 1393.6,1034.6 1397,1033.6 1399.6 C1033 1400.6,1031.6 1400.6,1031 1399.4Z" fill="none" stroke="#454545" stroke-width="0.80" stroke-linecap="round" stroke-linejoin="round" />
</g>
</svg>
</body></html>
